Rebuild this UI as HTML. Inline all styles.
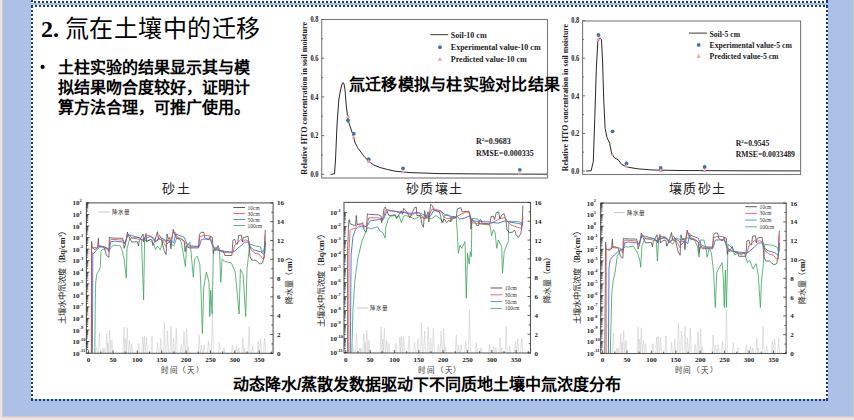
<!DOCTYPE html>
<html lang="zh-CN"><head><meta charset="utf-8"><style>
html,body{margin:0;padding:0;width:854px;height:420px;overflow:hidden;background:#ede2e4;}
svg{display:block;}
</style></head><body>
<svg width="854" height="420" viewBox="0 0 854 420">
<rect x="0" y="0" width="854" height="420" fill="#ede2e4"/>
<rect x="2" y="0" width="852" height="417" fill="#d6c9c5"/>
<rect x="2" y="417" width="852" height="1" fill="#e0dada"/>
<rect x="3" y="0" width="850" height="416" fill="#adc0e6"/>
<rect x="31" y="0" width="797" height="3" fill="#fff"/>
<rect x="31" y="5" width="797" height="394" fill="#fff"/>
<g fill="#103c8c"><rect x="34" y="1" width="2" height="2"/><rect x="38" y="1" width="2" height="2"/><rect x="42" y="1" width="2" height="2"/><rect x="46" y="1" width="2" height="2"/><rect x="50" y="1" width="2" height="2"/><rect x="54" y="1" width="2" height="2"/><rect x="58" y="1" width="2" height="2"/><rect x="62" y="1" width="2" height="2"/><rect x="66" y="1" width="2" height="2"/><rect x="70" y="1" width="2" height="2"/><rect x="74" y="1" width="2" height="2"/><rect x="78" y="1" width="2" height="2"/><rect x="82" y="1" width="2" height="2"/><rect x="86" y="1" width="2" height="2"/><rect x="90" y="1" width="2" height="2"/><rect x="94" y="1" width="2" height="2"/><rect x="98" y="1" width="2" height="2"/><rect x="102" y="1" width="2" height="2"/><rect x="106" y="1" width="2" height="2"/><rect x="110" y="1" width="2" height="2"/><rect x="114" y="1" width="2" height="2"/><rect x="118" y="1" width="2" height="2"/><rect x="122" y="1" width="2" height="2"/><rect x="126" y="1" width="2" height="2"/><rect x="130" y="1" width="2" height="2"/><rect x="134" y="1" width="2" height="2"/><rect x="138" y="1" width="2" height="2"/><rect x="142" y="1" width="2" height="2"/><rect x="146" y="1" width="2" height="2"/><rect x="150" y="1" width="2" height="2"/><rect x="154" y="1" width="2" height="2"/><rect x="158" y="1" width="2" height="2"/><rect x="162" y="1" width="2" height="2"/><rect x="166" y="1" width="2" height="2"/><rect x="170" y="1" width="2" height="2"/><rect x="174" y="1" width="2" height="2"/><rect x="178" y="1" width="2" height="2"/><rect x="182" y="1" width="2" height="2"/><rect x="186" y="1" width="2" height="2"/><rect x="190" y="1" width="2" height="2"/><rect x="194" y="1" width="2" height="2"/><rect x="198" y="1" width="2" height="2"/><rect x="202" y="1" width="2" height="2"/><rect x="206" y="1" width="2" height="2"/><rect x="210" y="1" width="2" height="2"/><rect x="214" y="1" width="2" height="2"/><rect x="218" y="1" width="2" height="2"/><rect x="222" y="1" width="2" height="2"/><rect x="226" y="1" width="2" height="2"/><rect x="230" y="1" width="2" height="2"/><rect x="234" y="1" width="2" height="2"/><rect x="238" y="1" width="2" height="2"/><rect x="242" y="1" width="2" height="2"/><rect x="246" y="1" width="2" height="2"/><rect x="250" y="1" width="2" height="2"/><rect x="254" y="1" width="2" height="2"/><rect x="258" y="1" width="2" height="2"/><rect x="262" y="1" width="2" height="2"/><rect x="266" y="1" width="2" height="2"/><rect x="270" y="1" width="2" height="2"/><rect x="274" y="1" width="2" height="2"/><rect x="278" y="1" width="2" height="2"/><rect x="282" y="1" width="2" height="2"/><rect x="286" y="1" width="2" height="2"/><rect x="290" y="1" width="2" height="2"/><rect x="294" y="1" width="2" height="2"/><rect x="298" y="1" width="2" height="2"/><rect x="302" y="1" width="2" height="2"/><rect x="306" y="1" width="2" height="2"/><rect x="310" y="1" width="2" height="2"/><rect x="314" y="1" width="2" height="2"/><rect x="318" y="1" width="2" height="2"/><rect x="322" y="1" width="2" height="2"/><rect x="326" y="1" width="2" height="2"/><rect x="330" y="1" width="2" height="2"/><rect x="334" y="1" width="2" height="2"/><rect x="338" y="1" width="2" height="2"/><rect x="342" y="1" width="2" height="2"/><rect x="346" y="1" width="2" height="2"/><rect x="350" y="1" width="2" height="2"/><rect x="354" y="1" width="2" height="2"/><rect x="358" y="1" width="2" height="2"/><rect x="362" y="1" width="2" height="2"/><rect x="366" y="1" width="2" height="2"/><rect x="370" y="1" width="2" height="2"/><rect x="374" y="1" width="2" height="2"/><rect x="378" y="1" width="2" height="2"/><rect x="382" y="1" width="2" height="2"/><rect x="386" y="1" width="2" height="2"/><rect x="390" y="1" width="2" height="2"/><rect x="394" y="1" width="2" height="2"/><rect x="398" y="1" width="2" height="2"/><rect x="402" y="1" width="2" height="2"/><rect x="406" y="1" width="2" height="2"/><rect x="410" y="1" width="2" height="2"/><rect x="414" y="1" width="2" height="2"/><rect x="418" y="1" width="2" height="2"/><rect x="422" y="1" width="2" height="2"/><rect x="426" y="1" width="2" height="2"/><rect x="430" y="1" width="2" height="2"/><rect x="434" y="1" width="2" height="2"/><rect x="438" y="1" width="2" height="2"/><rect x="442" y="1" width="2" height="2"/><rect x="446" y="1" width="2" height="2"/><rect x="450" y="1" width="2" height="2"/><rect x="454" y="1" width="2" height="2"/><rect x="458" y="1" width="2" height="2"/><rect x="462" y="1" width="2" height="2"/><rect x="466" y="1" width="2" height="2"/><rect x="470" y="1" width="2" height="2"/><rect x="474" y="1" width="2" height="2"/><rect x="478" y="1" width="2" height="2"/><rect x="482" y="1" width="2" height="2"/><rect x="486" y="1" width="2" height="2"/><rect x="490" y="1" width="2" height="2"/><rect x="494" y="1" width="2" height="2"/><rect x="498" y="1" width="2" height="2"/><rect x="502" y="1" width="2" height="2"/><rect x="506" y="1" width="2" height="2"/><rect x="510" y="1" width="2" height="2"/><rect x="514" y="1" width="2" height="2"/><rect x="518" y="1" width="2" height="2"/><rect x="522" y="1" width="2" height="2"/><rect x="526" y="1" width="2" height="2"/><rect x="530" y="1" width="2" height="2"/><rect x="534" y="1" width="2" height="2"/><rect x="538" y="1" width="2" height="2"/><rect x="542" y="1" width="2" height="2"/><rect x="546" y="1" width="2" height="2"/><rect x="550" y="1" width="2" height="2"/><rect x="554" y="1" width="2" height="2"/><rect x="558" y="1" width="2" height="2"/><rect x="562" y="1" width="2" height="2"/><rect x="566" y="1" width="2" height="2"/><rect x="570" y="1" width="2" height="2"/><rect x="574" y="1" width="2" height="2"/><rect x="578" y="1" width="2" height="2"/><rect x="582" y="1" width="2" height="2"/><rect x="586" y="1" width="2" height="2"/><rect x="590" y="1" width="2" height="2"/><rect x="594" y="1" width="2" height="2"/><rect x="598" y="1" width="2" height="2"/><rect x="602" y="1" width="2" height="2"/><rect x="606" y="1" width="2" height="2"/><rect x="610" y="1" width="2" height="2"/><rect x="614" y="1" width="2" height="2"/><rect x="618" y="1" width="2" height="2"/><rect x="622" y="1" width="2" height="2"/><rect x="626" y="1" width="2" height="2"/><rect x="630" y="1" width="2" height="2"/><rect x="634" y="1" width="2" height="2"/><rect x="638" y="1" width="2" height="2"/><rect x="642" y="1" width="2" height="2"/><rect x="646" y="1" width="2" height="2"/><rect x="650" y="1" width="2" height="2"/><rect x="654" y="1" width="2" height="2"/><rect x="658" y="1" width="2" height="2"/><rect x="662" y="1" width="2" height="2"/><rect x="666" y="1" width="2" height="2"/><rect x="670" y="1" width="2" height="2"/><rect x="674" y="1" width="2" height="2"/><rect x="678" y="1" width="2" height="2"/><rect x="682" y="1" width="2" height="2"/><rect x="686" y="1" width="2" height="2"/><rect x="690" y="1" width="2" height="2"/><rect x="694" y="1" width="2" height="2"/><rect x="698" y="1" width="2" height="2"/><rect x="702" y="1" width="2" height="2"/><rect x="706" y="1" width="2" height="2"/><rect x="710" y="1" width="2" height="2"/><rect x="714" y="1" width="2" height="2"/><rect x="718" y="1" width="2" height="2"/><rect x="722" y="1" width="2" height="2"/><rect x="726" y="1" width="2" height="2"/><rect x="730" y="1" width="2" height="2"/><rect x="734" y="1" width="2" height="2"/><rect x="738" y="1" width="2" height="2"/><rect x="742" y="1" width="2" height="2"/><rect x="746" y="1" width="2" height="2"/><rect x="750" y="1" width="2" height="2"/><rect x="754" y="1" width="2" height="2"/><rect x="758" y="1" width="2" height="2"/><rect x="762" y="1" width="2" height="2"/><rect x="766" y="1" width="2" height="2"/><rect x="770" y="1" width="2" height="2"/><rect x="774" y="1" width="2" height="2"/><rect x="778" y="1" width="2" height="2"/><rect x="782" y="1" width="2" height="2"/><rect x="786" y="1" width="2" height="2"/><rect x="790" y="1" width="2" height="2"/><rect x="794" y="1" width="2" height="2"/><rect x="798" y="1" width="2" height="2"/><rect x="802" y="1" width="2" height="2"/><rect x="806" y="1" width="2" height="2"/><rect x="810" y="1" width="2" height="2"/><rect x="814" y="1" width="2" height="2"/><rect x="818" y="1" width="2" height="2"/><rect x="822" y="1" width="2" height="2"/><rect x="826" y="1" width="2" height="2"/><rect x="35" y="5" width="2" height="2"/><rect x="35" y="399" width="2" height="2"/><rect x="39" y="5" width="2" height="2"/><rect x="39" y="399" width="2" height="2"/><rect x="43" y="5" width="2" height="2"/><rect x="43" y="399" width="2" height="2"/><rect x="47" y="5" width="2" height="2"/><rect x="47" y="399" width="2" height="2"/><rect x="51" y="5" width="2" height="2"/><rect x="51" y="399" width="2" height="2"/><rect x="55" y="5" width="2" height="2"/><rect x="55" y="399" width="2" height="2"/><rect x="59" y="5" width="2" height="2"/><rect x="59" y="399" width="2" height="2"/><rect x="63" y="5" width="2" height="2"/><rect x="63" y="399" width="2" height="2"/><rect x="67" y="5" width="2" height="2"/><rect x="67" y="399" width="2" height="2"/><rect x="71" y="5" width="2" height="2"/><rect x="71" y="399" width="2" height="2"/><rect x="75" y="5" width="2" height="2"/><rect x="75" y="399" width="2" height="2"/><rect x="79" y="5" width="2" height="2"/><rect x="79" y="399" width="2" height="2"/><rect x="83" y="5" width="2" height="2"/><rect x="83" y="399" width="2" height="2"/><rect x="87" y="5" width="2" height="2"/><rect x="87" y="399" width="2" height="2"/><rect x="91" y="5" width="2" height="2"/><rect x="91" y="399" width="2" height="2"/><rect x="95" y="5" width="2" height="2"/><rect x="95" y="399" width="2" height="2"/><rect x="99" y="5" width="2" height="2"/><rect x="99" y="399" width="2" height="2"/><rect x="103" y="5" width="2" height="2"/><rect x="103" y="399" width="2" height="2"/><rect x="107" y="5" width="2" height="2"/><rect x="107" y="399" width="2" height="2"/><rect x="111" y="5" width="2" height="2"/><rect x="111" y="399" width="2" height="2"/><rect x="115" y="5" width="2" height="2"/><rect x="115" y="399" width="2" height="2"/><rect x="119" y="5" width="2" height="2"/><rect x="119" y="399" width="2" height="2"/><rect x="123" y="5" width="2" height="2"/><rect x="123" y="399" width="2" height="2"/><rect x="127" y="5" width="2" height="2"/><rect x="127" y="399" width="2" height="2"/><rect x="131" y="5" width="2" height="2"/><rect x="131" y="399" width="2" height="2"/><rect x="135" y="5" width="2" height="2"/><rect x="135" y="399" width="2" height="2"/><rect x="139" y="5" width="2" height="2"/><rect x="139" y="399" width="2" height="2"/><rect x="143" y="5" width="2" height="2"/><rect x="143" y="399" width="2" height="2"/><rect x="147" y="5" width="2" height="2"/><rect x="147" y="399" width="2" height="2"/><rect x="151" y="5" width="2" height="2"/><rect x="151" y="399" width="2" height="2"/><rect x="155" y="5" width="2" height="2"/><rect x="155" y="399" width="2" height="2"/><rect x="159" y="5" width="2" height="2"/><rect x="159" y="399" width="2" height="2"/><rect x="163" y="5" width="2" height="2"/><rect x="163" y="399" width="2" height="2"/><rect x="167" y="5" width="2" height="2"/><rect x="167" y="399" width="2" height="2"/><rect x="171" y="5" width="2" height="2"/><rect x="171" y="399" width="2" height="2"/><rect x="175" y="5" width="2" height="2"/><rect x="175" y="399" width="2" height="2"/><rect x="179" y="5" width="2" height="2"/><rect x="179" y="399" width="2" height="2"/><rect x="183" y="5" width="2" height="2"/><rect x="183" y="399" width="2" height="2"/><rect x="187" y="5" width="2" height="2"/><rect x="187" y="399" width="2" height="2"/><rect x="191" y="5" width="2" height="2"/><rect x="191" y="399" width="2" height="2"/><rect x="195" y="5" width="2" height="2"/><rect x="195" y="399" width="2" height="2"/><rect x="199" y="5" width="2" height="2"/><rect x="199" y="399" width="2" height="2"/><rect x="203" y="5" width="2" height="2"/><rect x="203" y="399" width="2" height="2"/><rect x="207" y="5" width="2" height="2"/><rect x="207" y="399" width="2" height="2"/><rect x="211" y="5" width="2" height="2"/><rect x="211" y="399" width="2" height="2"/><rect x="215" y="5" width="2" height="2"/><rect x="215" y="399" width="2" height="2"/><rect x="219" y="5" width="2" height="2"/><rect x="219" y="399" width="2" height="2"/><rect x="223" y="5" width="2" height="2"/><rect x="223" y="399" width="2" height="2"/><rect x="227" y="5" width="2" height="2"/><rect x="227" y="399" width="2" height="2"/><rect x="231" y="5" width="2" height="2"/><rect x="231" y="399" width="2" height="2"/><rect x="235" y="5" width="2" height="2"/><rect x="235" y="399" width="2" height="2"/><rect x="239" y="5" width="2" height="2"/><rect x="239" y="399" width="2" height="2"/><rect x="243" y="5" width="2" height="2"/><rect x="243" y="399" width="2" height="2"/><rect x="247" y="5" width="2" height="2"/><rect x="247" y="399" width="2" height="2"/><rect x="251" y="5" width="2" height="2"/><rect x="251" y="399" width="2" height="2"/><rect x="255" y="5" width="2" height="2"/><rect x="255" y="399" width="2" height="2"/><rect x="259" y="5" width="2" height="2"/><rect x="259" y="399" width="2" height="2"/><rect x="263" y="5" width="2" height="2"/><rect x="263" y="399" width="2" height="2"/><rect x="267" y="5" width="2" height="2"/><rect x="267" y="399" width="2" height="2"/><rect x="271" y="5" width="2" height="2"/><rect x="271" y="399" width="2" height="2"/><rect x="275" y="5" width="2" height="2"/><rect x="275" y="399" width="2" height="2"/><rect x="279" y="5" width="2" height="2"/><rect x="279" y="399" width="2" height="2"/><rect x="283" y="5" width="2" height="2"/><rect x="283" y="399" width="2" height="2"/><rect x="287" y="5" width="2" height="2"/><rect x="287" y="399" width="2" height="2"/><rect x="291" y="5" width="2" height="2"/><rect x="291" y="399" width="2" height="2"/><rect x="295" y="5" width="2" height="2"/><rect x="295" y="399" width="2" height="2"/><rect x="299" y="5" width="2" height="2"/><rect x="299" y="399" width="2" height="2"/><rect x="303" y="5" width="2" height="2"/><rect x="303" y="399" width="2" height="2"/><rect x="307" y="5" width="2" height="2"/><rect x="307" y="399" width="2" height="2"/><rect x="311" y="5" width="2" height="2"/><rect x="311" y="399" width="2" height="2"/><rect x="315" y="5" width="2" height="2"/><rect x="315" y="399" width="2" height="2"/><rect x="319" y="5" width="2" height="2"/><rect x="319" y="399" width="2" height="2"/><rect x="323" y="5" width="2" height="2"/><rect x="323" y="399" width="2" height="2"/><rect x="327" y="5" width="2" height="2"/><rect x="327" y="399" width="2" height="2"/><rect x="331" y="5" width="2" height="2"/><rect x="331" y="399" width="2" height="2"/><rect x="335" y="5" width="2" height="2"/><rect x="335" y="399" width="2" height="2"/><rect x="339" y="5" width="2" height="2"/><rect x="339" y="399" width="2" height="2"/><rect x="343" y="5" width="2" height="2"/><rect x="343" y="399" width="2" height="2"/><rect x="347" y="5" width="2" height="2"/><rect x="347" y="399" width="2" height="2"/><rect x="351" y="5" width="2" height="2"/><rect x="351" y="399" width="2" height="2"/><rect x="355" y="5" width="2" height="2"/><rect x="355" y="399" width="2" height="2"/><rect x="359" y="5" width="2" height="2"/><rect x="359" y="399" width="2" height="2"/><rect x="363" y="5" width="2" height="2"/><rect x="363" y="399" width="2" height="2"/><rect x="367" y="5" width="2" height="2"/><rect x="367" y="399" width="2" height="2"/><rect x="371" y="5" width="2" height="2"/><rect x="371" y="399" width="2" height="2"/><rect x="375" y="5" width="2" height="2"/><rect x="375" y="399" width="2" height="2"/><rect x="379" y="5" width="2" height="2"/><rect x="379" y="399" width="2" height="2"/><rect x="383" y="5" width="2" height="2"/><rect x="383" y="399" width="2" height="2"/><rect x="387" y="5" width="2" height="2"/><rect x="387" y="399" width="2" height="2"/><rect x="391" y="5" width="2" height="2"/><rect x="391" y="399" width="2" height="2"/><rect x="395" y="5" width="2" height="2"/><rect x="395" y="399" width="2" height="2"/><rect x="399" y="5" width="2" height="2"/><rect x="399" y="399" width="2" height="2"/><rect x="403" y="5" width="2" height="2"/><rect x="403" y="399" width="2" height="2"/><rect x="407" y="5" width="2" height="2"/><rect x="407" y="399" width="2" height="2"/><rect x="411" y="5" width="2" height="2"/><rect x="411" y="399" width="2" height="2"/><rect x="415" y="5" width="2" height="2"/><rect x="415" y="399" width="2" height="2"/><rect x="419" y="5" width="2" height="2"/><rect x="419" y="399" width="2" height="2"/><rect x="423" y="5" width="2" height="2"/><rect x="423" y="399" width="2" height="2"/><rect x="427" y="5" width="2" height="2"/><rect x="427" y="399" width="2" height="2"/><rect x="431" y="5" width="2" height="2"/><rect x="431" y="399" width="2" height="2"/><rect x="435" y="5" width="2" height="2"/><rect x="435" y="399" width="2" height="2"/><rect x="439" y="5" width="2" height="2"/><rect x="439" y="399" width="2" height="2"/><rect x="443" y="5" width="2" height="2"/><rect x="443" y="399" width="2" height="2"/><rect x="447" y="5" width="2" height="2"/><rect x="447" y="399" width="2" height="2"/><rect x="451" y="5" width="2" height="2"/><rect x="451" y="399" width="2" height="2"/><rect x="455" y="5" width="2" height="2"/><rect x="455" y="399" width="2" height="2"/><rect x="459" y="5" width="2" height="2"/><rect x="459" y="399" width="2" height="2"/><rect x="463" y="5" width="2" height="2"/><rect x="463" y="399" width="2" height="2"/><rect x="467" y="5" width="2" height="2"/><rect x="467" y="399" width="2" height="2"/><rect x="471" y="5" width="2" height="2"/><rect x="471" y="399" width="2" height="2"/><rect x="475" y="5" width="2" height="2"/><rect x="475" y="399" width="2" height="2"/><rect x="479" y="5" width="2" height="2"/><rect x="479" y="399" width="2" height="2"/><rect x="483" y="5" width="2" height="2"/><rect x="483" y="399" width="2" height="2"/><rect x="487" y="5" width="2" height="2"/><rect x="487" y="399" width="2" height="2"/><rect x="491" y="5" width="2" height="2"/><rect x="491" y="399" width="2" height="2"/><rect x="495" y="5" width="2" height="2"/><rect x="495" y="399" width="2" height="2"/><rect x="499" y="5" width="2" height="2"/><rect x="499" y="399" width="2" height="2"/><rect x="503" y="5" width="2" height="2"/><rect x="503" y="399" width="2" height="2"/><rect x="507" y="5" width="2" height="2"/><rect x="507" y="399" width="2" height="2"/><rect x="511" y="5" width="2" height="2"/><rect x="511" y="399" width="2" height="2"/><rect x="515" y="5" width="2" height="2"/><rect x="515" y="399" width="2" height="2"/><rect x="519" y="5" width="2" height="2"/><rect x="519" y="399" width="2" height="2"/><rect x="523" y="5" width="2" height="2"/><rect x="523" y="399" width="2" height="2"/><rect x="527" y="5" width="2" height="2"/><rect x="527" y="399" width="2" height="2"/><rect x="531" y="5" width="2" height="2"/><rect x="531" y="399" width="2" height="2"/><rect x="535" y="5" width="2" height="2"/><rect x="535" y="399" width="2" height="2"/><rect x="539" y="5" width="2" height="2"/><rect x="539" y="399" width="2" height="2"/><rect x="543" y="5" width="2" height="2"/><rect x="543" y="399" width="2" height="2"/><rect x="547" y="5" width="2" height="2"/><rect x="547" y="399" width="2" height="2"/><rect x="551" y="5" width="2" height="2"/><rect x="551" y="399" width="2" height="2"/><rect x="555" y="5" width="2" height="2"/><rect x="555" y="399" width="2" height="2"/><rect x="559" y="5" width="2" height="2"/><rect x="559" y="399" width="2" height="2"/><rect x="563" y="5" width="2" height="2"/><rect x="563" y="399" width="2" height="2"/><rect x="567" y="5" width="2" height="2"/><rect x="567" y="399" width="2" height="2"/><rect x="571" y="5" width="2" height="2"/><rect x="571" y="399" width="2" height="2"/><rect x="575" y="5" width="2" height="2"/><rect x="575" y="399" width="2" height="2"/><rect x="579" y="5" width="2" height="2"/><rect x="579" y="399" width="2" height="2"/><rect x="583" y="5" width="2" height="2"/><rect x="583" y="399" width="2" height="2"/><rect x="587" y="5" width="2" height="2"/><rect x="587" y="399" width="2" height="2"/><rect x="591" y="5" width="2" height="2"/><rect x="591" y="399" width="2" height="2"/><rect x="595" y="5" width="2" height="2"/><rect x="595" y="399" width="2" height="2"/><rect x="599" y="5" width="2" height="2"/><rect x="599" y="399" width="2" height="2"/><rect x="603" y="5" width="2" height="2"/><rect x="603" y="399" width="2" height="2"/><rect x="607" y="5" width="2" height="2"/><rect x="607" y="399" width="2" height="2"/><rect x="611" y="5" width="2" height="2"/><rect x="611" y="399" width="2" height="2"/><rect x="615" y="5" width="2" height="2"/><rect x="615" y="399" width="2" height="2"/><rect x="619" y="5" width="2" height="2"/><rect x="619" y="399" width="2" height="2"/><rect x="623" y="5" width="2" height="2"/><rect x="623" y="399" width="2" height="2"/><rect x="627" y="5" width="2" height="2"/><rect x="627" y="399" width="2" height="2"/><rect x="631" y="5" width="2" height="2"/><rect x="631" y="399" width="2" height="2"/><rect x="635" y="5" width="2" height="2"/><rect x="635" y="399" width="2" height="2"/><rect x="639" y="5" width="2" height="2"/><rect x="639" y="399" width="2" height="2"/><rect x="643" y="5" width="2" height="2"/><rect x="643" y="399" width="2" height="2"/><rect x="647" y="5" width="2" height="2"/><rect x="647" y="399" width="2" height="2"/><rect x="651" y="5" width="2" height="2"/><rect x="651" y="399" width="2" height="2"/><rect x="655" y="5" width="2" height="2"/><rect x="655" y="399" width="2" height="2"/><rect x="659" y="5" width="2" height="2"/><rect x="659" y="399" width="2" height="2"/><rect x="663" y="5" width="2" height="2"/><rect x="663" y="399" width="2" height="2"/><rect x="667" y="5" width="2" height="2"/><rect x="667" y="399" width="2" height="2"/><rect x="671" y="5" width="2" height="2"/><rect x="671" y="399" width="2" height="2"/><rect x="675" y="5" width="2" height="2"/><rect x="675" y="399" width="2" height="2"/><rect x="679" y="5" width="2" height="2"/><rect x="679" y="399" width="2" height="2"/><rect x="683" y="5" width="2" height="2"/><rect x="683" y="399" width="2" height="2"/><rect x="687" y="5" width="2" height="2"/><rect x="687" y="399" width="2" height="2"/><rect x="691" y="5" width="2" height="2"/><rect x="691" y="399" width="2" height="2"/><rect x="695" y="5" width="2" height="2"/><rect x="695" y="399" width="2" height="2"/><rect x="699" y="5" width="2" height="2"/><rect x="699" y="399" width="2" height="2"/><rect x="703" y="5" width="2" height="2"/><rect x="703" y="399" width="2" height="2"/><rect x="707" y="5" width="2" height="2"/><rect x="707" y="399" width="2" height="2"/><rect x="711" y="5" width="2" height="2"/><rect x="711" y="399" width="2" height="2"/><rect x="715" y="5" width="2" height="2"/><rect x="715" y="399" width="2" height="2"/><rect x="719" y="5" width="2" height="2"/><rect x="719" y="399" width="2" height="2"/><rect x="723" y="5" width="2" height="2"/><rect x="723" y="399" width="2" height="2"/><rect x="727" y="5" width="2" height="2"/><rect x="727" y="399" width="2" height="2"/><rect x="731" y="5" width="2" height="2"/><rect x="731" y="399" width="2" height="2"/><rect x="735" y="5" width="2" height="2"/><rect x="735" y="399" width="2" height="2"/><rect x="739" y="5" width="2" height="2"/><rect x="739" y="399" width="2" height="2"/><rect x="743" y="5" width="2" height="2"/><rect x="743" y="399" width="2" height="2"/><rect x="747" y="5" width="2" height="2"/><rect x="747" y="399" width="2" height="2"/><rect x="751" y="5" width="2" height="2"/><rect x="751" y="399" width="2" height="2"/><rect x="755" y="5" width="2" height="2"/><rect x="755" y="399" width="2" height="2"/><rect x="759" y="5" width="2" height="2"/><rect x="759" y="399" width="2" height="2"/><rect x="763" y="5" width="2" height="2"/><rect x="763" y="399" width="2" height="2"/><rect x="767" y="5" width="2" height="2"/><rect x="767" y="399" width="2" height="2"/><rect x="771" y="5" width="2" height="2"/><rect x="771" y="399" width="2" height="2"/><rect x="775" y="5" width="2" height="2"/><rect x="775" y="399" width="2" height="2"/><rect x="779" y="5" width="2" height="2"/><rect x="779" y="399" width="2" height="2"/><rect x="783" y="5" width="2" height="2"/><rect x="783" y="399" width="2" height="2"/><rect x="787" y="5" width="2" height="2"/><rect x="787" y="399" width="2" height="2"/><rect x="791" y="5" width="2" height="2"/><rect x="791" y="399" width="2" height="2"/><rect x="795" y="5" width="2" height="2"/><rect x="795" y="399" width="2" height="2"/><rect x="799" y="5" width="2" height="2"/><rect x="799" y="399" width="2" height="2"/><rect x="803" y="5" width="2" height="2"/><rect x="803" y="399" width="2" height="2"/><rect x="807" y="5" width="2" height="2"/><rect x="807" y="399" width="2" height="2"/><rect x="811" y="5" width="2" height="2"/><rect x="811" y="399" width="2" height="2"/><rect x="815" y="5" width="2" height="2"/><rect x="815" y="399" width="2" height="2"/><rect x="819" y="5" width="2" height="2"/><rect x="819" y="399" width="2" height="2"/><rect x="823" y="5" width="2" height="2"/><rect x="823" y="399" width="2" height="2"/><rect x="31" y="0" width="2" height="2"/><rect x="826" y="0" width="2" height="2"/><rect x="31" y="10" width="2" height="2"/><rect x="826" y="10" width="2" height="2"/><rect x="31" y="14" width="2" height="2"/><rect x="826" y="14" width="2" height="2"/><rect x="31" y="18" width="2" height="2"/><rect x="826" y="18" width="2" height="2"/><rect x="31" y="22" width="2" height="2"/><rect x="826" y="22" width="2" height="2"/><rect x="31" y="26" width="2" height="2"/><rect x="826" y="26" width="2" height="2"/><rect x="31" y="30" width="2" height="2"/><rect x="826" y="30" width="2" height="2"/><rect x="31" y="34" width="2" height="2"/><rect x="826" y="34" width="2" height="2"/><rect x="31" y="38" width="2" height="2"/><rect x="826" y="38" width="2" height="2"/><rect x="31" y="42" width="2" height="2"/><rect x="826" y="42" width="2" height="2"/><rect x="31" y="46" width="2" height="2"/><rect x="826" y="46" width="2" height="2"/><rect x="31" y="50" width="2" height="2"/><rect x="826" y="50" width="2" height="2"/><rect x="31" y="54" width="2" height="2"/><rect x="826" y="54" width="2" height="2"/><rect x="31" y="58" width="2" height="2"/><rect x="826" y="58" width="2" height="2"/><rect x="31" y="62" width="2" height="2"/><rect x="826" y="62" width="2" height="2"/><rect x="31" y="66" width="2" height="2"/><rect x="826" y="66" width="2" height="2"/><rect x="31" y="70" width="2" height="2"/><rect x="826" y="70" width="2" height="2"/><rect x="31" y="74" width="2" height="2"/><rect x="826" y="74" width="2" height="2"/><rect x="31" y="78" width="2" height="2"/><rect x="826" y="78" width="2" height="2"/><rect x="31" y="82" width="2" height="2"/><rect x="826" y="82" width="2" height="2"/><rect x="31" y="86" width="2" height="2"/><rect x="826" y="86" width="2" height="2"/><rect x="31" y="90" width="2" height="2"/><rect x="826" y="90" width="2" height="2"/><rect x="31" y="94" width="2" height="2"/><rect x="826" y="94" width="2" height="2"/><rect x="31" y="98" width="2" height="2"/><rect x="826" y="98" width="2" height="2"/><rect x="31" y="102" width="2" height="2"/><rect x="826" y="102" width="2" height="2"/><rect x="31" y="106" width="2" height="2"/><rect x="826" y="106" width="2" height="2"/><rect x="31" y="110" width="2" height="2"/><rect x="826" y="110" width="2" height="2"/><rect x="31" y="114" width="2" height="2"/><rect x="826" y="114" width="2" height="2"/><rect x="31" y="118" width="2" height="2"/><rect x="826" y="118" width="2" height="2"/><rect x="31" y="122" width="2" height="2"/><rect x="826" y="122" width="2" height="2"/><rect x="31" y="126" width="2" height="2"/><rect x="826" y="126" width="2" height="2"/><rect x="31" y="130" width="2" height="2"/><rect x="826" y="130" width="2" height="2"/><rect x="31" y="134" width="2" height="2"/><rect x="826" y="134" width="2" height="2"/><rect x="31" y="138" width="2" height="2"/><rect x="826" y="138" width="2" height="2"/><rect x="31" y="142" width="2" height="2"/><rect x="826" y="142" width="2" height="2"/><rect x="31" y="146" width="2" height="2"/><rect x="826" y="146" width="2" height="2"/><rect x="31" y="150" width="2" height="2"/><rect x="826" y="150" width="2" height="2"/><rect x="31" y="154" width="2" height="2"/><rect x="826" y="154" width="2" height="2"/><rect x="31" y="158" width="2" height="2"/><rect x="826" y="158" width="2" height="2"/><rect x="31" y="162" width="2" height="2"/><rect x="826" y="162" width="2" height="2"/><rect x="31" y="166" width="2" height="2"/><rect x="826" y="166" width="2" height="2"/><rect x="31" y="170" width="2" height="2"/><rect x="826" y="170" width="2" height="2"/><rect x="31" y="174" width="2" height="2"/><rect x="826" y="174" width="2" height="2"/><rect x="31" y="178" width="2" height="2"/><rect x="826" y="178" width="2" height="2"/><rect x="31" y="182" width="2" height="2"/><rect x="826" y="182" width="2" height="2"/><rect x="31" y="186" width="2" height="2"/><rect x="826" y="186" width="2" height="2"/><rect x="31" y="190" width="2" height="2"/><rect x="826" y="190" width="2" height="2"/><rect x="31" y="194" width="2" height="2"/><rect x="826" y="194" width="2" height="2"/><rect x="31" y="198" width="2" height="2"/><rect x="826" y="198" width="2" height="2"/><rect x="31" y="202" width="2" height="2"/><rect x="826" y="202" width="2" height="2"/><rect x="31" y="206" width="2" height="2"/><rect x="826" y="206" width="2" height="2"/><rect x="31" y="210" width="2" height="2"/><rect x="826" y="210" width="2" height="2"/><rect x="31" y="214" width="2" height="2"/><rect x="826" y="214" width="2" height="2"/><rect x="31" y="218" width="2" height="2"/><rect x="826" y="218" width="2" height="2"/><rect x="31" y="222" width="2" height="2"/><rect x="826" y="222" width="2" height="2"/><rect x="31" y="226" width="2" height="2"/><rect x="826" y="226" width="2" height="2"/><rect x="31" y="230" width="2" height="2"/><rect x="826" y="230" width="2" height="2"/><rect x="31" y="234" width="2" height="2"/><rect x="826" y="234" width="2" height="2"/><rect x="31" y="238" width="2" height="2"/><rect x="826" y="238" width="2" height="2"/><rect x="31" y="242" width="2" height="2"/><rect x="826" y="242" width="2" height="2"/><rect x="31" y="246" width="2" height="2"/><rect x="826" y="246" width="2" height="2"/><rect x="31" y="250" width="2" height="2"/><rect x="826" y="250" width="2" height="2"/><rect x="31" y="254" width="2" height="2"/><rect x="826" y="254" width="2" height="2"/><rect x="31" y="258" width="2" height="2"/><rect x="826" y="258" width="2" height="2"/><rect x="31" y="262" width="2" height="2"/><rect x="826" y="262" width="2" height="2"/><rect x="31" y="266" width="2" height="2"/><rect x="826" y="266" width="2" height="2"/><rect x="31" y="270" width="2" height="2"/><rect x="826" y="270" width="2" height="2"/><rect x="31" y="274" width="2" height="2"/><rect x="826" y="274" width="2" height="2"/><rect x="31" y="278" width="2" height="2"/><rect x="826" y="278" width="2" height="2"/><rect x="31" y="282" width="2" height="2"/><rect x="826" y="282" width="2" height="2"/><rect x="31" y="286" width="2" height="2"/><rect x="826" y="286" width="2" height="2"/><rect x="31" y="290" width="2" height="2"/><rect x="826" y="290" width="2" height="2"/><rect x="31" y="294" width="2" height="2"/><rect x="826" y="294" width="2" height="2"/><rect x="31" y="298" width="2" height="2"/><rect x="826" y="298" width="2" height="2"/><rect x="31" y="302" width="2" height="2"/><rect x="826" y="302" width="2" height="2"/><rect x="31" y="306" width="2" height="2"/><rect x="826" y="306" width="2" height="2"/><rect x="31" y="310" width="2" height="2"/><rect x="826" y="310" width="2" height="2"/><rect x="31" y="314" width="2" height="2"/><rect x="826" y="314" width="2" height="2"/><rect x="31" y="318" width="2" height="2"/><rect x="826" y="318" width="2" height="2"/><rect x="31" y="322" width="2" height="2"/><rect x="826" y="322" width="2" height="2"/><rect x="31" y="326" width="2" height="2"/><rect x="826" y="326" width="2" height="2"/><rect x="31" y="330" width="2" height="2"/><rect x="826" y="330" width="2" height="2"/><rect x="31" y="334" width="2" height="2"/><rect x="826" y="334" width="2" height="2"/><rect x="31" y="338" width="2" height="2"/><rect x="826" y="338" width="2" height="2"/><rect x="31" y="342" width="2" height="2"/><rect x="826" y="342" width="2" height="2"/><rect x="31" y="346" width="2" height="2"/><rect x="826" y="346" width="2" height="2"/><rect x="31" y="350" width="2" height="2"/><rect x="826" y="350" width="2" height="2"/><rect x="31" y="354" width="2" height="2"/><rect x="826" y="354" width="2" height="2"/><rect x="31" y="358" width="2" height="2"/><rect x="826" y="358" width="2" height="2"/><rect x="31" y="362" width="2" height="2"/><rect x="826" y="362" width="2" height="2"/><rect x="31" y="366" width="2" height="2"/><rect x="826" y="366" width="2" height="2"/><rect x="31" y="370" width="2" height="2"/><rect x="826" y="370" width="2" height="2"/><rect x="31" y="374" width="2" height="2"/><rect x="826" y="374" width="2" height="2"/><rect x="31" y="378" width="2" height="2"/><rect x="826" y="378" width="2" height="2"/><rect x="31" y="382" width="2" height="2"/><rect x="826" y="382" width="2" height="2"/><rect x="31" y="386" width="2" height="2"/><rect x="826" y="386" width="2" height="2"/><rect x="31" y="390" width="2" height="2"/><rect x="826" y="390" width="2" height="2"/><rect x="31" y="394" width="2" height="2"/><rect x="826" y="394" width="2" height="2"/><rect x="31" y="398" width="2" height="2"/><rect x="826" y="398" width="2" height="2"/><rect x="31" y="6" width="2" height="2"/><rect x="826" y="6" width="2" height="2"/><rect x="31" y="5" width="2" height="2"/><rect x="826" y="5" width="2" height="2"/><rect x="31" y="399" width="2" height="2"/><rect x="826" y="399" width="2" height="2"/></g>
<text x="41" y="37" font-size="24" font-family="'Liberation Serif', serif" fill="#000"><tspan font-weight="bold">2. </tspan><tspan letter-spacing="0.45" font-weight="500">氚在土壤中的迁移</tspan></text>
<circle cx="42.6" cy="66.9" r="2.1" fill="#000"/>
<text x="58" y="73" font-size="16" font-weight="bold" font-family="'Liberation Sans', sans-serif" fill="#000">土柱实验的结果显示其与模</text>
<text x="58" y="93" font-size="16" font-weight="bold" font-family="'Liberation Sans', sans-serif" fill="#000">拟结果吻合度较好，证明计</text>
<text x="58" y="113" font-size="16" font-weight="bold" font-family="'Liberation Sans', sans-serif" fill="#000">算方法合理，可推广使用。</text>
<rect x="321.7" y="19.5" width="225.8" height="158.5" fill="none" stroke="#7a7a7a" stroke-width="1.1"/>
<line x1="321.7" y1="174.3" x2="324.2" y2="174.3" stroke="#555" stroke-width="0.8"/>
<text transform="translate(318.4,177.1) scale(0.8,1)" font-size="8" font-weight="bold" text-anchor="end" font-family="'Liberation Serif', serif" fill="#222">0.0</text>
<line x1="321.7" y1="155.0" x2="323.2" y2="155.0" stroke="#555" stroke-width="0.8"/>
<line x1="321.7" y1="135.6" x2="324.2" y2="135.6" stroke="#555" stroke-width="0.8"/>
<text transform="translate(318.4,138.4) scale(0.8,1)" font-size="8" font-weight="bold" text-anchor="end" font-family="'Liberation Serif', serif" fill="#222">0.2</text>
<line x1="321.7" y1="116.2" x2="323.2" y2="116.2" stroke="#555" stroke-width="0.8"/>
<line x1="321.7" y1="96.9" x2="324.2" y2="96.9" stroke="#555" stroke-width="0.8"/>
<text transform="translate(318.4,99.7) scale(0.8,1)" font-size="8" font-weight="bold" text-anchor="end" font-family="'Liberation Serif', serif" fill="#222">0.4</text>
<line x1="321.7" y1="77.6" x2="323.2" y2="77.6" stroke="#555" stroke-width="0.8"/>
<line x1="321.7" y1="58.2" x2="324.2" y2="58.2" stroke="#555" stroke-width="0.8"/>
<text transform="translate(318.4,61.0) scale(0.8,1)" font-size="8" font-weight="bold" text-anchor="end" font-family="'Liberation Serif', serif" fill="#222">0.6</text>
<line x1="321.7" y1="38.8" x2="323.2" y2="38.8" stroke="#555" stroke-width="0.8"/>
<line x1="321.7" y1="19.5" x2="324.2" y2="19.5" stroke="#555" stroke-width="0.8"/>
<text transform="translate(318.4,22.3) scale(0.8,1)" font-size="8" font-weight="bold" text-anchor="end" font-family="'Liberation Serif', serif" fill="#222">0.8</text>
<text transform="translate(307.2,98.3) rotate(-90)" font-size="8.1" font-weight="bold" text-anchor="middle" font-family="'Liberation Serif', serif" fill="#222">Relative HTO concentration in soil moisture</text>
<line x1="430.3" y1="34.7" x2="448.3" y2="34.7" stroke="#222" stroke-width="0.9"/>
<text x="450.8" y="38.1" font-size="8" font-weight="bold" font-family="'Liberation Serif', serif" fill="#222">Soil-10 cm</text>
<circle cx="440.0" cy="47.2" r="1.9" fill="#4573a8"/>
<text x="450.8" y="50.1" font-size="8" font-weight="bold" font-family="'Liberation Serif', serif" fill="#222">Experimental value-10 cm</text>
<path d="M437.90000000000003,60.7 L442.1,60.7 L440.0,56.800000000000004Z" fill="#f2a59a"/>
<text x="450.8" y="62.1" font-size="8" font-weight="bold" font-family="'Liberation Serif', serif" fill="#222">Predicted value-10 cm</text>
<text x="476" y="143.5" font-size="8" font-weight="bold" font-family="'Liberation Serif', serif" fill="#222">R<tspan font-size="5" dy="-3">2</tspan><tspan dy="3">=0.9683</tspan></text>
<text x="476" y="155.5" font-size="8" font-weight="bold" font-family="'Liberation Serif', serif" fill="#222">RMSE=0.000335</text>
<path d="M330.5,174.4 L334.5,173.8 L335.5,160.0 L337.0,125.0 L338.8,100.0 L340.5,90.0 L342.0,84.0 L343.0,82.5 L344.0,84.0 L345.0,90.0 L346.2,105.0 L348.0,120.0 L350.0,126.2 L353.0,135.0 L355.0,142.5 L357.5,147.5 L361.2,152.5 L365.0,157.5 L368.8,161.2 L373.8,165.0 L380.0,167.5 L387.5,169.5 L395.0,171.2 L410.0,172.6 L440.0,173.6 L490.0,174.0 L547.0,174.2" fill="none" stroke="#111" stroke-width="0.9"/>
<circle cx="348" cy="120.5" r="1.9" fill="#4573a8"/>
<path d="M346,118.0 L350,118.0 L348,114.5Z" fill="#f2a59a"/>
<circle cx="353.75" cy="133.75" r="1.9" fill="#4573a8"/>
<path d="M351.75,138.5 L355.75,138.5 L353.75,135Z" fill="#f2a59a"/>
<circle cx="368.75" cy="159.25" r="1.9" fill="#4573a8"/>
<path d="M366.75,163.0 L370.75,163.0 L368.75,159.5Z" fill="#f2a59a"/>
<circle cx="403" cy="168.3" r="1.9" fill="#4573a8"/>
<path d="M401,173.2 L405,173.2 L403,169.7Z" fill="#f2a59a"/>
<circle cx="519.8" cy="169.8" r="1.9" fill="#4573a8"/>
<path d="M517.8,174.5 L521.8,174.5 L519.8,171Z" fill="#f2a59a"/>
<rect x="582.6" y="21" width="218.0" height="153.5" fill="none" stroke="#7a7a7a" stroke-width="1.1"/>
<line x1="582.6" y1="171.0" x2="585.1" y2="171.0" stroke="#555" stroke-width="0.8"/>
<text transform="translate(579.3000000000001,173.8) scale(0.8,1)" font-size="8" font-weight="bold" text-anchor="end" font-family="'Liberation Serif', serif" fill="#222">0.0</text>
<line x1="582.6" y1="152.2" x2="584.1" y2="152.2" stroke="#555" stroke-width="0.8"/>
<line x1="582.6" y1="133.4" x2="585.1" y2="133.4" stroke="#555" stroke-width="0.8"/>
<text transform="translate(579.3000000000001,136.2) scale(0.8,1)" font-size="8" font-weight="bold" text-anchor="end" font-family="'Liberation Serif', serif" fill="#222">0.2</text>
<line x1="582.6" y1="114.6" x2="584.1" y2="114.6" stroke="#555" stroke-width="0.8"/>
<line x1="582.6" y1="95.8" x2="585.1" y2="95.8" stroke="#555" stroke-width="0.8"/>
<text transform="translate(579.3000000000001,98.6) scale(0.8,1)" font-size="8" font-weight="bold" text-anchor="end" font-family="'Liberation Serif', serif" fill="#222">0.4</text>
<line x1="582.6" y1="77.0" x2="584.1" y2="77.0" stroke="#555" stroke-width="0.8"/>
<line x1="582.6" y1="58.2" x2="585.1" y2="58.2" stroke="#555" stroke-width="0.8"/>
<text transform="translate(579.3000000000001,61.0) scale(0.8,1)" font-size="8" font-weight="bold" text-anchor="end" font-family="'Liberation Serif', serif" fill="#222">0.6</text>
<line x1="582.6" y1="39.4" x2="584.1" y2="39.4" stroke="#555" stroke-width="0.8"/>
<line x1="582.6" y1="20.6" x2="585.1" y2="20.6" stroke="#555" stroke-width="0.8"/>
<text transform="translate(579.3000000000001,23.4) scale(0.8,1)" font-size="8" font-weight="bold" text-anchor="end" font-family="'Liberation Serif', serif" fill="#222">0.8</text>
<text transform="translate(568.2,97.6) rotate(-90)" font-size="7.8" font-weight="bold" text-anchor="middle" font-family="'Liberation Serif', serif" fill="#222">Relative HTO concentration in soil moisture</text>
<line x1="689" y1="33.1" x2="707" y2="33.1" stroke="#222" stroke-width="0.9"/>
<text x="709.5" y="36.5" font-size="7.7" font-weight="bold" font-family="'Liberation Serif', serif" fill="#222">Soil-5 cm</text>
<circle cx="698.7" cy="44.900000000000006" r="1.9" fill="#4573a8"/>
<text x="709.5" y="47.800000000000004" font-size="7.7" font-weight="bold" font-family="'Liberation Serif', serif" fill="#222">Experimental value-5 cm</text>
<path d="M696.6,57.7 L700.8,57.7 L698.7,53.800000000000004Z" fill="#f2a59a"/>
<text x="709.5" y="59.1" font-size="7.7" font-weight="bold" font-family="'Liberation Serif', serif" fill="#222">Predicted value-5 cm</text>
<text x="735.7" y="146" font-size="7.7" font-weight="bold" font-family="'Liberation Serif', serif" fill="#222">R<tspan font-size="5" dy="-3">2</tspan><tspan dy="3">=0.9545</tspan></text>
<text x="735.7" y="156.5" font-size="7.7" font-weight="bold" font-family="'Liberation Serif', serif" fill="#222">RMSE=0.0033489</text>
<path d="M586.0,171.0 L591.1,170.8 L593.3,161.5 L594.8,117.3 L596.3,69.3 L597.8,41.6 L599.6,37.9 L601.5,39.8 L602.6,61.9 L603.7,98.8 L605.1,128.3 L607.0,137.5 L609.6,143.1 L611.8,154.2 L614.4,157.8 L618.1,159.7 L621.7,164.5 L627.3,167.1 L638.4,168.9 L653.1,170.0 L680.0,170.5 L740.0,170.8 L800.0,170.9" fill="none" stroke="#111" stroke-width="0.9"/>
<circle cx="598.5" cy="35" r="1.9" fill="#4573a8"/>
<path d="M596.5,40.5 L600.5,40.5 L598.5,37Z" fill="#f2a59a"/>
<circle cx="612.5" cy="131.3" r="1.9" fill="#4573a8"/>
<path d="M610.5,155.7 L614.5,155.7 L612.5,152.2Z" fill="#f2a59a"/>
<circle cx="626.5" cy="163.4" r="1.9" fill="#4573a8"/>
<path d="M624.5,167.5 L628.5,167.5 L626.5,164Z" fill="#f2a59a"/>
<circle cx="660.7" cy="168" r="1.9" fill="#4573a8"/>
<path d="M658.7,172.0 L662.7,172.0 L660.7,168.5Z" fill="#f2a59a"/>
<circle cx="704.6" cy="167" r="1.9" fill="#4573a8"/>
<path d="M702.6,172.0 L706.6,172.0 L704.6,168.5Z" fill="#f2a59a"/>
<text x="176.5" y="193" font-size="13" letter-spacing="1.5" text-anchor="middle" font-family="'Liberation Serif', serif" fill="#222">砂土</text>
<path d="M95.5,353.3 L96.5,347.5 L97.5,353.3 M98.4,353.3 L99.4,333.2 L100.4,353.3 M101.5,353.3 L102.5,348.6 L103.5,353.3 M103.0,353.3 L104.0,348.0 L105.0,353.3 M105.7,353.3 L106.7,333.7 L107.7,353.3 M107.0,353.3 L108.0,343.0 L109.0,353.3 M108.7,353.3 L109.7,330.4 L110.7,353.3 M110.9,353.3 L111.9,340.3 L112.9,353.3 M123.0,353.3 L124.0,327.1 L125.0,353.3 M124.6,353.3 L125.6,339.0 L126.6,353.3 M126.3,353.3 L127.3,327.7 L128.3,353.3 M128.5,353.3 L129.5,340.3 L130.5,353.3 M130.7,353.3 L131.7,343.6 L132.7,353.3 M137.8,353.3 L138.8,343.6 L139.8,353.3 M141.7,353.3 L142.7,337.0 L143.7,353.3 M143.3,353.3 L144.3,335.9 L145.3,353.3 M145.5,353.3 L146.5,337.0 L147.5,353.3 M151.0,353.3 L152.0,335.9 L153.0,353.3 M156.5,353.3 L157.5,342.5 L158.5,353.3 M159.8,353.3 L160.8,338.7 L161.8,353.3 M163.4,353.3 L164.4,322.7 L165.4,353.3 M166.5,353.3 L167.5,331.0 L168.5,353.3 M170.0,353.3 L171.0,326.6 L172.0,353.3 M172.5,353.3 L173.5,338.1 L174.5,353.3 M175.3,353.3 L176.3,328.2 L177.3,353.3 M180.2,353.3 L181.2,344.3 L182.2,353.3 M183.0,353.3 L184.0,331.1 L185.0,353.3 M185.6,353.3 L186.6,328.8 L187.6,353.3 M187.3,353.3 L188.3,346.6 L189.3,353.3 M198.2,353.3 L199.2,335.1 L200.2,353.3 M200.5,353.3 L201.5,345.0 L202.5,353.3 M203.2,353.3 L204.2,344.8 L205.2,353.3 M207.4,353.3 L208.4,340.8 L209.4,353.3 M211.4,353.3 L212.4,309.8 L213.4,353.3 M218.3,353.3 L219.3,342.5 L220.3,353.3 M222.9,353.3 L223.9,347.7 L224.9,353.3 M231.5,353.3 L232.5,344.8 L233.5,353.3 M235.5,353.3 L236.5,346.0 L237.5,353.3 M237.8,353.3 L238.8,347.7 L239.8,353.3 M241.8,353.3 L242.8,338.0 L243.8,353.3 M243.5,353.3 L244.5,348.0 L245.5,353.3 M248.1,353.3 L249.1,326.5 L250.1,353.3 M251.6,353.3 L252.6,346.0 L253.6,353.3 M257.3,353.3 L258.3,341.4 L259.3,353.3 M259.6,353.3 L260.6,339.1 L261.6,353.3 M263.6,353.3 L264.6,338.0 L265.6,353.3" fill="none" stroke="#cdcdcd" stroke-width="0.6"/>
<path d="M94.8,353.0 L95.3,300.0 L95.7,282.9 L96.7,274.3 L98.9,270.7 L100.3,267.1 L101.0,251.4 L102.4,249.3 L107.4,248.6 L109.0,250.7 L110.8,247.9 L113.6,245.0 L117.4,245.5 L120.3,246.0 L122.2,250.7 L124.1,259.3 L126.3,277.9 L127.0,248.8 L129.8,238.3 L139.3,237.4 L141.5,240.2 L143.6,299.8 L144.6,240.2 L150.0,240.5 L153.9,244.4 L155.5,249.7 L157.5,246.0 L160.4,249.8 L163.0,240.2 L168.0,240.2 L170.9,244.0 L173.7,246.0 L176.6,238.3 L180.0,239.5 L181.5,243.1 L185.4,266.7 L186.7,245.7 L189.9,242.1 L190.6,247.0 L193.3,277.2 L194.6,258.8 L197.2,256.2 L199.8,264.1 L201.1,292.9 L202.4,333.5 L203.7,287.7 L206.4,271.9 L209.0,282.4 L209.8,316.5 L210.8,290.0 L212.1,313.9 L213.4,251.0 L215.5,247.0 L217.6,247.9 L219.5,251.0 L220.8,282.4 L222.1,258.8 L224.7,261.5 L231.3,262.8 L235.2,271.9 L239.1,313.9 L240.4,269.3 L243.1,274.6 L245.7,316.5 L247.0,269.3 L249.6,245.7 L250.0,244.0 L255.7,246.0 L260.5,246.9 L261.9,252.6 L263.3,249.8 L264.8,253.6 L265.3,240.5" fill="none" stroke="#3aa55a" stroke-width="0.8" stroke-linejoin="round" opacity="1"/>
<path d="M91.4,353.0 L91.6,241.4 L92.2,247.9 L95.0,249.5 L97.5,248.0 L98.4,238.3 L98.9,246.9 L104.0,247.0 L106.5,255.5 L108.9,257.4 L109.3,237.4 L111.0,238.0 L122.5,238.3 L123.6,241.7 L124.1,248.3 L125.5,244.0 L127.4,232.1 L128.4,235.5 L131.7,242.1 L137.4,241.7 L138.4,246.0 L139.3,240.7 L143.1,234.0 L143.6,242.0 L146.0,233.6 L146.5,242.0 L150.0,239.3 L152.0,240.0 L152.8,245.5 L154.7,241.2 L157.5,231.7 L158.5,239.3 L161.3,239.3 L164.2,250.7 L166.1,254.5 L167.0,234.0 L168.5,239.3 L169.9,237.4 L170.9,248.8 L171.8,240.2 L173.2,229.3 L174.7,234.5 L176.6,238.3 L180.4,238.3 L184.2,241.2 L185.1,251.7 L186.1,246.0 L189.0,247.9 L198.5,247.9 L199.4,234.5 L201.3,232.1 L204.0,232.6 L204.5,237.4 L207.0,239.3 L209.0,239.8 L210.0,236.4 L212.4,237.4 L213.3,253.6 L213.8,249.8 L215.7,250.7 L218.1,245.5 L219.5,249.8 L221.4,251.7 L223.3,250.7 L224.8,255.5 L231.9,255.5 L232.9,240.2 L234.8,239.3 L236.2,244.0 L237.6,244.0 L238.6,235.5 L241.4,235.0 L242.4,242.1 L243.3,237.4 L248.1,236.4 L249.0,244.0 L250.0,256.4 L251.9,260.2 L255.7,260.2 L257.6,262.1 L260.1,264.1 L262.7,262.8 L264.0,256.2 L265.3,230.0" fill="none" stroke="#505050" stroke-width="0.8" stroke-linejoin="round" opacity="1"/>
<path d="M91.4,353.0 L91.6,247.1 L97.4,247.9 L99.3,245.5 L106.0,247.4 L108.9,252.1 L109.8,240.2 L111.7,239.3 L123.1,240.2 L125.0,244.0 L127.9,234.0 L129.8,235.5 L131.7,237.9 L139.3,239.3 L143.1,240.2 L146.0,236.0 L148.0,235.5 L151.8,236.4 L153.7,240.2 L157.5,240.2 L159.4,235.0 L162.3,240.2 L166.1,246.9 L167.0,240.2 L170.9,241.2 L173.2,232.1 L175.6,232.6 L176.6,236.4 L184.2,241.2 L186.1,245.0 L189.9,246.9 L198.5,246.9 L199.9,236.4 L205.1,235.5 L210.0,236.0 L212.9,246.9 L215.7,249.8 L219.5,250.7 L224.3,252.6 L232.9,252.6 L234.8,245.0 L238.6,241.7 L240.5,239.8 L243.3,241.2 L245.2,239.8 L249.0,241.2 L251.0,249.8 L254.8,253.1 L259.5,254.5 L262.4,258.3 L264.3,258.3 L265.2,234.5" fill="none" stroke="#e8453c" stroke-width="0.8" stroke-linejoin="round" opacity="1"/>
<path d="M92.4,353.0 L92.8,252.9 L93.6,253.6 L96.0,250.7 L100.3,246.4 L107.0,247.9 L109.3,249.8 L110.8,241.7 L114.6,241.2 L123.1,242.1 L125.0,243.1 L127.9,235.0 L131.7,235.5 L139.3,237.9 L143.1,240.2 L150.0,236.4 L153.7,238.3 L155.6,241.7 L160.4,237.4 L165.0,240.2 L167.0,244.0 L170.9,240.2 L173.7,243.1 L175.6,234.0 L184.2,237.4 L187.0,244.0 L191.8,246.0 L199.4,246.4 L201.3,239.3 L210.0,238.8 L212.9,246.0 L214.0,247.9 L217.6,249.8 L223.3,251.2 L232.9,252.1 L235.7,250.2 L243.3,243.6 L244.3,242.1 L248.1,242.1 L250.0,246.9 L253.8,249.8 L260.5,251.7 L264.3,254.5 L265.7,242.1" fill="none" stroke="#3d70db" stroke-width="0.9" stroke-linejoin="round" opacity="1"/>
<rect x="86.4" y="202.9" width="186.70000000000002" height="150.4" fill="none" stroke="#5a5a5a" stroke-width="1.1"/>
<text x="72.4" y="205.4" font-size="7" font-weight="bold" font-family="'Liberation Serif', serif" fill="#222">10</text><text x="79.4" y="202.1" font-size="4.5" font-weight="bold" font-family="'Liberation Serif', serif" fill="#222">2</text>
<text x="72.4" y="217.0" font-size="7" font-weight="bold" font-family="'Liberation Serif', serif" fill="#222">10</text><text x="79.4" y="213.7" font-size="4.5" font-weight="bold" font-family="'Liberation Serif', serif" fill="#222">1</text>
<text x="72.4" y="228.5" font-size="7" font-weight="bold" font-family="'Liberation Serif', serif" fill="#222">10</text><text x="79.4" y="225.2" font-size="4.5" font-weight="bold" font-family="'Liberation Serif', serif" fill="#222">0</text>
<text x="72.4" y="240.1" font-size="7" font-weight="bold" font-family="'Liberation Serif', serif" fill="#222">10</text><text x="79.4" y="236.8" font-size="4.5" font-weight="bold" font-family="'Liberation Serif', serif" fill="#222">-1</text>
<text x="72.4" y="251.6" font-size="7" font-weight="bold" font-family="'Liberation Serif', serif" fill="#222">10</text><text x="79.4" y="248.3" font-size="4.5" font-weight="bold" font-family="'Liberation Serif', serif" fill="#222">-2</text>
<text x="72.4" y="263.1" font-size="7" font-weight="bold" font-family="'Liberation Serif', serif" fill="#222">10</text><text x="79.4" y="259.8" font-size="4.5" font-weight="bold" font-family="'Liberation Serif', serif" fill="#222">-3</text>
<text x="72.4" y="274.7" font-size="7" font-weight="bold" font-family="'Liberation Serif', serif" fill="#222">10</text><text x="79.4" y="271.4" font-size="4.5" font-weight="bold" font-family="'Liberation Serif', serif" fill="#222">-4</text>
<text x="72.4" y="286.2" font-size="7" font-weight="bold" font-family="'Liberation Serif', serif" fill="#222">10</text><text x="79.4" y="282.9" font-size="4.5" font-weight="bold" font-family="'Liberation Serif', serif" fill="#222">-5</text>
<text x="72.4" y="297.8" font-size="7" font-weight="bold" font-family="'Liberation Serif', serif" fill="#222">10</text><text x="79.4" y="294.5" font-size="4.5" font-weight="bold" font-family="'Liberation Serif', serif" fill="#222">-6</text>
<text x="72.4" y="309.4" font-size="7" font-weight="bold" font-family="'Liberation Serif', serif" fill="#222">10</text><text x="79.4" y="306.1" font-size="4.5" font-weight="bold" font-family="'Liberation Serif', serif" fill="#222">-7</text>
<text x="72.4" y="320.9" font-size="7" font-weight="bold" font-family="'Liberation Serif', serif" fill="#222">10</text><text x="79.4" y="317.6" font-size="4.5" font-weight="bold" font-family="'Liberation Serif', serif" fill="#222">-8</text>
<text x="72.4" y="332.5" font-size="7" font-weight="bold" font-family="'Liberation Serif', serif" fill="#222">10</text><text x="79.4" y="329.2" font-size="4.5" font-weight="bold" font-family="'Liberation Serif', serif" fill="#222">-9</text>
<text x="72.4" y="344.0" font-size="7" font-weight="bold" font-family="'Liberation Serif', serif" fill="#222">10</text><text x="79.4" y="340.7" font-size="4.5" font-weight="bold" font-family="'Liberation Serif', serif" fill="#222">-10</text>
<text x="72.4" y="355.6" font-size="7" font-weight="bold" font-family="'Liberation Serif', serif" fill="#222">10</text><text x="79.4" y="352.2" font-size="4.5" font-weight="bold" font-family="'Liberation Serif', serif" fill="#222">-11</text>
<text x="277.1" y="355.8" font-size="7" font-weight="bold" font-family="'Liberation Serif', serif" fill="#222">0</text>
<text x="277.1" y="337.0" font-size="7" font-weight="bold" font-family="'Liberation Serif', serif" fill="#222">2</text>
<text x="277.1" y="318.2" font-size="7" font-weight="bold" font-family="'Liberation Serif', serif" fill="#222">4</text>
<text x="277.1" y="299.4" font-size="7" font-weight="bold" font-family="'Liberation Serif', serif" fill="#222">6</text>
<text x="277.1" y="280.6" font-size="7" font-weight="bold" font-family="'Liberation Serif', serif" fill="#222">8</text>
<text x="277.1" y="261.8" font-size="7" font-weight="bold" font-family="'Liberation Serif', serif" fill="#222">10</text>
<text x="277.1" y="243.0" font-size="7" font-weight="bold" font-family="'Liberation Serif', serif" fill="#222">12</text>
<text x="277.1" y="224.2" font-size="7" font-weight="bold" font-family="'Liberation Serif', serif" fill="#222">14</text>
<text x="277.1" y="205.4" font-size="7" font-weight="bold" font-family="'Liberation Serif', serif" fill="#222">16</text>
<text x="88.6" y="361.8" font-size="7" font-weight="bold" text-anchor="middle" font-family="'Liberation Serif', serif" fill="#222">0</text>
<text x="113.0" y="361.8" font-size="7" font-weight="bold" text-anchor="middle" font-family="'Liberation Serif', serif" fill="#222">50</text>
<text x="137.3" y="361.8" font-size="7" font-weight="bold" text-anchor="middle" font-family="'Liberation Serif', serif" fill="#222">100</text>
<text x="161.7" y="361.8" font-size="7" font-weight="bold" text-anchor="middle" font-family="'Liberation Serif', serif" fill="#222">150</text>
<text x="186.1" y="361.8" font-size="7" font-weight="bold" text-anchor="middle" font-family="'Liberation Serif', serif" fill="#222">200</text>
<text x="210.5" y="361.8" font-size="7" font-weight="bold" text-anchor="middle" font-family="'Liberation Serif', serif" fill="#222">250</text>
<text x="234.8" y="361.8" font-size="7" font-weight="bold" text-anchor="middle" font-family="'Liberation Serif', serif" fill="#222">300</text>
<text x="259.2" y="361.8" font-size="7" font-weight="bold" text-anchor="middle" font-family="'Liberation Serif', serif" fill="#222">350</text>
<path d="M86.4,202.9h3 M86.4,211.0h1.8 M86.4,208.9h1.8 M86.4,207.5h1.8 M86.4,206.4h1.8 M86.4,205.5h1.8 M86.4,204.7h1.8 M86.4,204.0h1.8 M86.4,203.4h1.8 M86.4,214.5h3 M86.4,222.5h1.8 M86.4,220.5h1.8 M86.4,219.0h1.8 M86.4,217.9h1.8 M86.4,217.0h1.8 M86.4,216.2h1.8 M86.4,215.6h1.8 M86.4,215.0h1.8 M86.4,226.0h3 M86.4,234.1h1.8 M86.4,232.0h1.8 M86.4,230.6h1.8 M86.4,229.5h1.8 M86.4,228.6h1.8 M86.4,227.8h1.8 M86.4,227.1h1.8 M86.4,226.5h1.8 M86.4,237.6h3 M86.4,245.6h1.8 M86.4,243.6h1.8 M86.4,242.1h1.8 M86.4,241.0h1.8 M86.4,240.1h1.8 M86.4,239.3h1.8 M86.4,238.7h1.8 M86.4,238.1h1.8 M86.4,249.1h3 M86.4,257.2h1.8 M86.4,255.1h1.8 M86.4,253.7h1.8 M86.4,252.6h1.8 M86.4,251.7h1.8 M86.4,250.9h1.8 M86.4,250.2h1.8 M86.4,249.6h1.8 M86.4,260.6h3 M86.4,268.7h1.8 M86.4,266.7h1.8 M86.4,265.2h1.8 M86.4,264.1h1.8 M86.4,263.2h1.8 M86.4,262.4h1.8 M86.4,261.8h1.8 M86.4,261.2h1.8 M86.4,272.2h3 M86.4,280.3h1.8 M86.4,278.2h1.8 M86.4,276.8h1.8 M86.4,275.7h1.8 M86.4,274.8h1.8 M86.4,274.0h1.8 M86.4,273.3h1.8 M86.4,272.7h1.8 M86.4,283.8h3 M86.4,291.8h1.8 M86.4,289.8h1.8 M86.4,288.3h1.8 M86.4,287.2h1.8 M86.4,286.3h1.8 M86.4,285.5h1.8 M86.4,284.9h1.8 M86.4,284.3h1.8 M86.4,295.3h3 M86.4,303.4h1.8 M86.4,301.3h1.8 M86.4,299.9h1.8 M86.4,298.8h1.8 M86.4,297.9h1.8 M86.4,297.1h1.8 M86.4,296.4h1.8 M86.4,295.8h1.8 M86.4,306.9h3 M86.4,314.9h1.8 M86.4,312.9h1.8 M86.4,311.4h1.8 M86.4,310.3h1.8 M86.4,309.4h1.8 M86.4,308.6h1.8 M86.4,308.0h1.8 M86.4,307.4h1.8 M86.4,318.4h3 M86.4,326.5h1.8 M86.4,324.4h1.8 M86.4,323.0h1.8 M86.4,321.9h1.8 M86.4,321.0h1.8 M86.4,320.2h1.8 M86.4,319.5h1.8 M86.4,318.9h1.8 M86.4,330.0h3 M86.4,338.0h1.8 M86.4,336.0h1.8 M86.4,334.5h1.8 M86.4,333.4h1.8 M86.4,332.5h1.8 M86.4,331.7h1.8 M86.4,331.1h1.8 M86.4,330.5h1.8 M86.4,341.5h3 M86.4,349.6h1.8 M86.4,347.5h1.8 M86.4,346.1h1.8 M86.4,345.0h1.8 M86.4,344.1h1.8 M86.4,343.3h1.8 M86.4,342.6h1.8 M86.4,342.0h1.8 M86.4,353.1h3 M273.1,353.3h-3 M273.1,343.9h-1.8 M273.1,334.5h-3 M273.1,325.1h-1.8 M273.1,315.7h-3 M273.1,306.3h-1.8 M273.1,296.9h-3 M273.1,287.5h-1.8 M273.1,278.1h-3 M273.1,268.7h-1.8 M273.1,259.3h-3 M273.1,249.9h-1.8 M273.1,240.5h-3 M273.1,231.1h-1.8 M273.1,221.7h-3 M273.1,212.3h-1.8 M273.1,202.9h-3 M88.6,353.3v-3 M100.8,353.3v-1.8 M113.0,353.3v-3 M125.2,353.3v-1.8 M137.3,353.3v-3 M149.5,353.3v-1.8 M161.7,353.3v-3 M173.9,353.3v-1.8 M186.1,353.3v-3 M198.3,353.3v-1.8 M210.5,353.3v-3 M222.7,353.3v-1.8 M234.8,353.3v-3 M247.0,353.3v-1.8 M259.2,353.3v-3 M271.4,353.3v-1.8" stroke="#222" stroke-width="0.7" fill="none"/>
<text x="182.8" y="373.3" font-size="7.5" letter-spacing="1.8" text-anchor="middle" font-family="'Liberation Serif', serif" fill="#333">时间（天）</text>
<text transform="translate(64.5,275.6) rotate(-90)" font-size="8.2" text-anchor="middle" font-family="'Liberation Serif', serif" fill="#222">土壤水中氚浓度（<tspan font-weight="bold">Bq/cm<tspan font-size="5" dy="-3">3</tspan><tspan dy="3">）</tspan></tspan></text>
<text transform="translate(292.3,278.5) rotate(-90)" font-size="8" text-anchor="middle" font-family="'Liberation Serif', serif" fill="#222">降水量（<tspan font-weight="bold">cm</tspan>）</text>
<line x1="98.8" y1="212" x2="109.8" y2="212" stroke="#c8c8c8" stroke-width="1"/>
<text x="112.3" y="214.3" font-size="5.6" font-family="'Liberation Serif', serif" fill="#333">降水量</text>
<line x1="233.3" y1="207.5" x2="245.0" y2="207.5" stroke="#333" stroke-width="0.8"/>
<text x="247.60000000000002" y="209.5" font-size="5.4" font-family="'Liberation Serif', serif" fill="#333">10cm</text>
<line x1="233.3" y1="213.5" x2="245.0" y2="213.5" stroke="#e8453c" stroke-width="0.8"/>
<text x="247.60000000000002" y="215.5" font-size="5.4" font-family="'Liberation Serif', serif" fill="#333">30cm</text>
<line x1="233.3" y1="219.5" x2="245.0" y2="219.5" stroke="#3d70db" stroke-width="0.8"/>
<text x="247.60000000000002" y="221.5" font-size="5.4" font-family="'Liberation Serif', serif" fill="#333">50cm</text>
<line x1="233.3" y1="225.5" x2="245.0" y2="225.5" stroke="#3aa55a" stroke-width="0.8"/>
<text x="247.60000000000002" y="227.5" font-size="5.4" font-family="'Liberation Serif', serif" fill="#333">100cm</text>
<text x="434.8" y="193" font-size="13" letter-spacing="1.5" text-anchor="middle" font-family="'Liberation Serif', serif" fill="#222">砂质壤土</text>
<path d="M352.6,353 L353.6,347.5 L354.6,353 M355.5,353 L356.5,333.2 L357.5,353 M358.6,353 L359.6,348.6 L360.6,353 M360.1,353 L361.1,348.0 L362.1,353 M362.8,353 L363.8,333.7 L364.8,353 M364.1,353 L365.1,343.0 L366.1,353 M365.8,353 L366.8,330.4 L367.8,353 M368.0,353 L369.0,340.3 L370.0,353 M380.1,353 L381.1,327.1 L382.1,353 M381.7,353 L382.7,339.0 L383.7,353 M383.4,353 L384.4,327.7 L385.4,353 M385.6,353 L386.6,340.3 L387.6,353 M387.8,353 L388.8,343.6 L389.8,353 M394.9,353 L395.9,343.6 L396.9,353 M398.8,353 L399.8,337.0 L400.8,353 M400.4,353 L401.4,335.9 L402.4,353 M402.6,353 L403.6,337.0 L404.6,353 M408.1,353 L409.1,335.9 L410.1,353 M413.6,353 L414.6,342.5 L415.6,353 M416.9,353 L417.9,338.7 L418.9,353 M420.5,353 L421.5,322.7 L422.5,353 M423.6,353 L424.6,331.0 L425.6,353 M427.1,353 L428.1,326.6 L429.1,353 M429.6,353 L430.6,338.1 L431.6,353 M432.4,353 L433.4,328.2 L434.4,353 M437.3,353 L438.3,344.3 L439.3,353 M440.1,353 L441.1,331.1 L442.1,353 M442.7,353 L443.7,328.8 L444.7,353 M444.4,353 L445.4,346.6 L446.4,353 M455.3,353 L456.3,335.1 L457.3,353 M457.6,353 L458.6,345.0 L459.6,353 M460.3,353 L461.3,344.8 L462.3,353 M464.5,353 L465.5,340.8 L466.5,353 M468.5,353 L469.5,309.8 L470.5,353 M475.4,353 L476.4,342.5 L477.4,353 M480.0,353 L481.0,347.7 L482.0,353 M488.6,353 L489.6,344.8 L490.6,353 M492.6,353 L493.6,346.0 L494.6,353 M494.9,353 L495.9,347.7 L496.9,353 M498.9,353 L499.9,338.0 L500.9,353 M500.6,353 L501.6,348.0 L502.6,353 M505.2,353 L506.2,326.5 L507.2,353 M508.7,353 L509.7,346.0 L510.7,353 M514.4,353 L515.4,341.4 L516.4,353 M516.7,353 L517.7,339.1 L518.7,353 M520.7,353 L521.7,338.0 L522.7,353" fill="none" stroke="#cdcdcd" stroke-width="0.6"/>
<path d="M351.8,353.0 L352.9,310.7 L354.8,281.2 L357.7,259.0 L362.1,240.6 L367.7,227.7 L371.6,228.6 L375.1,227.4 L377.5,226.8 L379.9,230.9 L382.9,232.7 L385.2,238.1 L385.8,227.4 L388.2,219.0 L390.6,216.1 L395.3,215.5 L396.5,219.0 L399.0,215.5 L401.3,222.6 L403.7,216.1 L405.0,215.5 L409.8,216.7 L414.5,219.0 L419.3,216.7 L424.0,218.4 L428.8,217.8 L431.2,219.0 L435.9,215.5 L440.7,219.0 L443.1,222.6 L444.3,215.5 L447.8,214.3 L450.2,216.7 L451.4,221.4 L453.8,217.2 L456.2,217.8 L457.3,233.3 L458.3,253.3 L460.0,245.0 L461.7,248.3 L465.0,241.7 L466.3,298.3 L467.5,253.3 L469.2,264.2 L470.3,251.7 L471.3,256.7 L471.9,218.4 L477.9,219.0 L479.1,223.8 L489.8,225.0 L490.4,227.4 L491.6,235.7 L493.4,229.7 L495.1,232.7 L496.7,248.3 L498.3,240.0 L501.7,246.7 L502.5,273.3 L504.2,251.7 L506.7,245.0 L508.3,241.7 L508.8,221.4 L518.3,221.4 L521.9,223.2 L523.1,225.6" fill="none" stroke="#3aa55a" stroke-width="0.8" stroke-linejoin="round" opacity="1"/>
<path d="M347.6,353.0 L347.6,250.0 L348.4,230.0 L348.9,220.2 L349.5,219.6 L350.1,223.8 L353.1,225.0 L355.5,225.6 L356.3,215.5 L357.0,224.4 L361.4,223.8 L362.6,222.6 L364.4,230.9 L366.2,232.1 L367.4,213.7 L368.6,214.3 L378.7,214.9 L381.1,216.1 L381.7,222.6 L382.9,217.8 L384.0,208.9 L385.2,207.1 L386.4,209.5 L388.8,215.5 L395.3,214.9 L396.5,217.8 L400.1,213.1 L401.3,210.7 L402.5,214.3 L403.7,208.3 L407.0,211.9 L409.8,217.8 L412.1,213.1 L414.5,207.7 L416.3,207.1 L416.9,215.5 L420.5,215.5 L421.7,223.8 L423.4,227.4 L424.6,210.7 L425.8,217.8 L428.2,211.9 L428.8,222.0 L430.6,204.2 L432.4,205.9 L433.6,209.5 L435.9,210.7 L439.5,211.9 L440.7,216.7 L441.9,222.6 L444.3,219.0 L446.6,222.6 L449.0,220.2 L450.2,222.0 L452.0,216.7 L456.2,217.8 L457.3,208.9 L460.9,207.7 L462.1,211.9 L466.0,211.3 L469.0,211.3 L470.2,215.5 L471.0,229.1 L471.9,219.0 L475.5,223.2 L476.7,225.6 L478.5,225.6 L479.7,220.2 L480.9,219.6 L482.0,223.2 L489.8,223.8 L491.0,216.7 L493.4,216.1 L494.6,219.6 L496.3,212.5 L498.7,211.9 L499.9,219.0 L501.7,214.9 L504.1,213.7 L505.9,220.2 L507.0,229.7 L509.4,232.7 L512.4,232.1 L514.8,230.3 L516.0,234.5 L518.3,237.5 L520.7,233.9 L521.9,227.4 L522.9,205.4" fill="none" stroke="#505050" stroke-width="0.8" stroke-linejoin="round" opacity="1"/>
<path d="M348.8,353.0 L349.0,250.0 L350.1,230.3 L351.3,229.1 L355.5,228.6 L357.3,224.4 L364.4,225.6 L366.8,227.4 L368.6,217.8 L378.7,217.8 L382.3,219.0 L384.0,216.7 L385.2,211.3 L386.4,209.5 L388.8,210.0 L395.3,211.3 L400.1,213.1 L405.0,211.9 L412.1,215.5 L414.5,213.0 L418.1,212.5 L422.8,216.7 L424.0,219.0 L428.8,216.7 L431.8,209.5 L433.6,208.9 L440.7,210.7 L443.7,216.7 L446.6,218.4 L455.0,218.4 L457.3,216.1 L462.1,213.7 L466.0,212.0 L469.0,212.5 L471.0,222.6 L475.5,223.2 L483.8,223.8 L489.8,224.4 L494.6,221.4 L500.5,218.4 L505.3,217.8 L507.6,221.4 L511.2,225.0 L516.0,226.8 L521.3,228.6 L523.1,216.7" fill="none" stroke="#e8453c" stroke-width="0.8" stroke-linejoin="round" opacity="1"/>
<path d="M350.3,353.0 L351.1,255.4 L352.9,236.9 L355.5,229.5 L358.5,226.8 L364.4,226.8 L367.4,225.6 L370.4,220.8 L378.7,219.6 L383.4,219.6 L386.4,211.9 L388.2,210.7 L395.3,211.3 L407.0,213.1 L412.1,213.3 L419.3,212.7 L425.2,215.5 L430.0,216.7 L433.6,210.7 L440.7,211.3 L445.4,214.9 L452.6,216.7 L457.3,216.7 L459.7,219.0 L465.0,218.0 L470.2,215.5 L471.9,220.8 L477.9,221.4 L489.8,222.0 L498.1,223.2 L505.3,220.8 L508.8,222.0 L517.2,223.2 L521.9,224.4 L523.1,221.4" fill="none" stroke="#3d70db" stroke-width="0.9" stroke-linejoin="round" opacity="1"/>
<rect x="344" y="202.4" width="186.5" height="150.6" fill="none" stroke="#5a5a5a" stroke-width="1.1"/>
<text x="330" y="215.1" font-size="7" font-weight="bold" font-family="'Liberation Serif', serif" fill="#222">10</text><text x="337" y="211.8" font-size="4.5" font-weight="bold" font-family="'Liberation Serif', serif" fill="#222">-1</text>
<text x="330" y="229.1" font-size="7" font-weight="bold" font-family="'Liberation Serif', serif" fill="#222">10</text><text x="337" y="225.8" font-size="4.5" font-weight="bold" font-family="'Liberation Serif', serif" fill="#222">-2</text>
<text x="330" y="243.1" font-size="7" font-weight="bold" font-family="'Liberation Serif', serif" fill="#222">10</text><text x="337" y="239.8" font-size="4.5" font-weight="bold" font-family="'Liberation Serif', serif" fill="#222">-3</text>
<text x="330" y="257.1" font-size="7" font-weight="bold" font-family="'Liberation Serif', serif" fill="#222">10</text><text x="337" y="253.8" font-size="4.5" font-weight="bold" font-family="'Liberation Serif', serif" fill="#222">-4</text>
<text x="330" y="271.1" font-size="7" font-weight="bold" font-family="'Liberation Serif', serif" fill="#222">10</text><text x="337" y="267.8" font-size="4.5" font-weight="bold" font-family="'Liberation Serif', serif" fill="#222">-5</text>
<text x="330" y="285.1" font-size="7" font-weight="bold" font-family="'Liberation Serif', serif" fill="#222">10</text><text x="337" y="281.8" font-size="4.5" font-weight="bold" font-family="'Liberation Serif', serif" fill="#222">-6</text>
<text x="330" y="299.1" font-size="7" font-weight="bold" font-family="'Liberation Serif', serif" fill="#222">10</text><text x="337" y="295.8" font-size="4.5" font-weight="bold" font-family="'Liberation Serif', serif" fill="#222">-7</text>
<text x="330" y="313.1" font-size="7" font-weight="bold" font-family="'Liberation Serif', serif" fill="#222">10</text><text x="337" y="309.8" font-size="4.5" font-weight="bold" font-family="'Liberation Serif', serif" fill="#222">-8</text>
<text x="330" y="327.1" font-size="7" font-weight="bold" font-family="'Liberation Serif', serif" fill="#222">10</text><text x="337" y="323.8" font-size="4.5" font-weight="bold" font-family="'Liberation Serif', serif" fill="#222">-9</text>
<text x="330" y="341.1" font-size="7" font-weight="bold" font-family="'Liberation Serif', serif" fill="#222">10</text><text x="337" y="337.8" font-size="4.5" font-weight="bold" font-family="'Liberation Serif', serif" fill="#222">-10</text>
<text x="330" y="355.1" font-size="7" font-weight="bold" font-family="'Liberation Serif', serif" fill="#222">10</text><text x="337" y="351.8" font-size="4.5" font-weight="bold" font-family="'Liberation Serif', serif" fill="#222">-11</text>
<text x="534.5" y="355.5" font-size="7" font-weight="bold" font-family="'Liberation Serif', serif" fill="#222">0</text>
<text x="534.5" y="336.7" font-size="7" font-weight="bold" font-family="'Liberation Serif', serif" fill="#222">2</text>
<text x="534.5" y="317.9" font-size="7" font-weight="bold" font-family="'Liberation Serif', serif" fill="#222">4</text>
<text x="534.5" y="299.0" font-size="7" font-weight="bold" font-family="'Liberation Serif', serif" fill="#222">6</text>
<text x="534.5" y="280.2" font-size="7" font-weight="bold" font-family="'Liberation Serif', serif" fill="#222">8</text>
<text x="534.5" y="261.4" font-size="7" font-weight="bold" font-family="'Liberation Serif', serif" fill="#222">10</text>
<text x="534.5" y="242.6" font-size="7" font-weight="bold" font-family="'Liberation Serif', serif" fill="#222">12</text>
<text x="534.5" y="223.7" font-size="7" font-weight="bold" font-family="'Liberation Serif', serif" fill="#222">14</text>
<text x="534.5" y="204.9" font-size="7" font-weight="bold" font-family="'Liberation Serif', serif" fill="#222">16</text>
<text x="345.7" y="361.5" font-size="7" font-weight="bold" text-anchor="middle" font-family="'Liberation Serif', serif" fill="#222">0</text>
<text x="370.1" y="361.5" font-size="7" font-weight="bold" text-anchor="middle" font-family="'Liberation Serif', serif" fill="#222">50</text>
<text x="394.4" y="361.5" font-size="7" font-weight="bold" text-anchor="middle" font-family="'Liberation Serif', serif" fill="#222">100</text>
<text x="418.8" y="361.5" font-size="7" font-weight="bold" text-anchor="middle" font-family="'Liberation Serif', serif" fill="#222">150</text>
<text x="443.1" y="361.5" font-size="7" font-weight="bold" text-anchor="middle" font-family="'Liberation Serif', serif" fill="#222">200</text>
<text x="467.4" y="361.5" font-size="7" font-weight="bold" text-anchor="middle" font-family="'Liberation Serif', serif" fill="#222">250</text>
<text x="491.8" y="361.5" font-size="7" font-weight="bold" text-anchor="middle" font-family="'Liberation Serif', serif" fill="#222">300</text>
<text x="516.1" y="361.5" font-size="7" font-weight="bold" text-anchor="middle" font-family="'Liberation Serif', serif" fill="#222">350</text>
<path d="M344,212.6h3 M344,222.4h1.8 M344,219.9h1.8 M344,218.2h1.8 M344,216.8h1.8 M344,215.7h1.8 M344,214.8h1.8 M344,214.0h1.8 M344,213.3h1.8 M344,226.6h3 M344,236.4h1.8 M344,233.9h1.8 M344,232.2h1.8 M344,230.8h1.8 M344,229.7h1.8 M344,228.8h1.8 M344,228.0h1.8 M344,227.3h1.8 M344,240.6h3 M344,250.4h1.8 M344,247.9h1.8 M344,246.2h1.8 M344,244.8h1.8 M344,243.7h1.8 M344,242.8h1.8 M344,242.0h1.8 M344,241.3h1.8 M344,254.6h3 M344,264.4h1.8 M344,261.9h1.8 M344,260.2h1.8 M344,258.8h1.8 M344,257.7h1.8 M344,256.8h1.8 M344,256.0h1.8 M344,255.3h1.8 M344,268.6h3 M344,278.4h1.8 M344,275.9h1.8 M344,274.2h1.8 M344,272.8h1.8 M344,271.7h1.8 M344,270.8h1.8 M344,270.0h1.8 M344,269.3h1.8 M344,282.6h3 M344,292.4h1.8 M344,289.9h1.8 M344,288.2h1.8 M344,286.8h1.8 M344,285.7h1.8 M344,284.8h1.8 M344,284.0h1.8 M344,283.3h1.8 M344,296.6h3 M344,306.4h1.8 M344,303.9h1.8 M344,302.2h1.8 M344,300.8h1.8 M344,299.7h1.8 M344,298.8h1.8 M344,298.0h1.8 M344,297.3h1.8 M344,310.6h3 M344,320.4h1.8 M344,317.9h1.8 M344,316.2h1.8 M344,314.8h1.8 M344,313.7h1.8 M344,312.8h1.8 M344,312.0h1.8 M344,311.3h1.8 M344,324.6h3 M344,334.4h1.8 M344,331.9h1.8 M344,330.2h1.8 M344,328.8h1.8 M344,327.7h1.8 M344,326.8h1.8 M344,326.0h1.8 M344,325.3h1.8 M344,338.6h3 M344,348.4h1.8 M344,345.9h1.8 M344,344.2h1.8 M344,342.8h1.8 M344,341.7h1.8 M344,340.8h1.8 M344,340.0h1.8 M344,339.3h1.8 M344,352.6h3 M530.5,353.0h-3 M530.5,343.6h-1.8 M530.5,334.2h-3 M530.5,324.8h-1.8 M530.5,315.4h-3 M530.5,305.9h-1.8 M530.5,296.5h-3 M530.5,287.1h-1.8 M530.5,277.7h-3 M530.5,268.3h-1.8 M530.5,258.9h-3 M530.5,249.5h-1.8 M530.5,240.1h-3 M530.5,230.6h-1.8 M530.5,221.2h-3 M530.5,211.8h-1.8 M530.5,202.4h-3 M345.7,353v-3 M357.9,353v-1.8 M370.1,353v-3 M382.2,353v-1.8 M394.4,353v-3 M406.6,353v-1.8 M418.8,353v-3 M430.9,353v-1.8 M443.1,353v-3 M455.3,353v-1.8 M467.4,353v-3 M479.6,353v-1.8 M491.8,353v-3 M504.0,353v-1.8 M516.1,353v-3 M528.3,353v-1.8" stroke="#222" stroke-width="0.7" fill="none"/>
<text x="440.2" y="373.3" font-size="7.5" letter-spacing="1.8" text-anchor="middle" font-family="'Liberation Serif', serif" fill="#333">时间（天）</text>
<text transform="translate(324,278.2) rotate(-90)" font-size="8.2" text-anchor="middle" font-family="'Liberation Serif', serif" fill="#222">土壤水中氚浓度（<tspan font-weight="bold">Bq/cm<tspan font-size="5" dy="-3">3</tspan><tspan dy="3">）</tspan></tspan></text>
<text transform="translate(549.7,278.1) rotate(-90)" font-size="8" text-anchor="middle" font-family="'Liberation Serif', serif" fill="#222">降水量（<tspan font-weight="bold">cm</tspan>）</text>
<line x1="356.7" y1="308" x2="367.7" y2="308" stroke="#c8c8c8" stroke-width="1"/>
<text x="370.2" y="310.3" font-size="5.6" font-family="'Liberation Serif', serif" fill="#333">降水量</text>
<line x1="490.5" y1="288.0" x2="502.2" y2="288.0" stroke="#333" stroke-width="0.8"/>
<text x="504.8" y="290.0" font-size="5.4" font-family="'Liberation Serif', serif" fill="#333">10cm</text>
<line x1="490.5" y1="294.8" x2="502.2" y2="294.8" stroke="#e8453c" stroke-width="0.8"/>
<text x="504.8" y="296.8" font-size="5.4" font-family="'Liberation Serif', serif" fill="#333">30cm</text>
<line x1="490.5" y1="301.6" x2="502.2" y2="301.6" stroke="#3d70db" stroke-width="0.8"/>
<text x="504.8" y="303.6" font-size="5.4" font-family="'Liberation Serif', serif" fill="#333">50cm</text>
<line x1="490.5" y1="308.4" x2="502.2" y2="308.4" stroke="#3aa55a" stroke-width="0.8"/>
<text x="504.8" y="310.4" font-size="5.4" font-family="'Liberation Serif', serif" fill="#333">100cm</text>
<text x="697.9" y="193" font-size="13" letter-spacing="1.5" text-anchor="middle" font-family="'Liberation Serif', serif" fill="#222">壤质砂土</text>
<path d="M609.5,353.5 L610.5,347.5 L611.5,353.5 M612.4,353.5 L613.4,333.2 L614.4,353.5 M615.5,353.5 L616.5,348.6 L617.5,353.5 M617.0,353.5 L618.0,348.0 L619.0,353.5 M619.7,353.5 L620.7,333.7 L621.7,353.5 M621.0,353.5 L622.0,343.0 L623.0,353.5 M622.7,353.5 L623.7,330.4 L624.7,353.5 M624.9,353.5 L625.9,340.3 L626.9,353.5 M637.0,353.5 L638.0,327.1 L639.0,353.5 M638.6,353.5 L639.6,339.0 L640.6,353.5 M640.3,353.5 L641.3,327.7 L642.3,353.5 M642.5,353.5 L643.5,340.3 L644.5,353.5 M644.7,353.5 L645.7,343.6 L646.7,353.5 M651.8,353.5 L652.8,343.6 L653.8,353.5 M655.7,353.5 L656.7,337.0 L657.7,353.5 M657.3,353.5 L658.3,335.9 L659.3,353.5 M659.5,353.5 L660.5,337.0 L661.5,353.5 M665.0,353.5 L666.0,335.9 L667.0,353.5 M670.5,353.5 L671.5,342.5 L672.5,353.5 M673.8,353.5 L674.8,338.7 L675.8,353.5 M677.4,353.5 L678.4,322.7 L679.4,353.5 M680.5,353.5 L681.5,331.0 L682.5,353.5 M684.0,353.5 L685.0,326.6 L686.0,353.5 M686.5,353.5 L687.5,338.1 L688.5,353.5 M689.3,353.5 L690.3,328.2 L691.3,353.5 M694.2,353.5 L695.2,344.3 L696.2,353.5 M697.0,353.5 L698.0,331.1 L699.0,353.5 M699.6,353.5 L700.6,328.8 L701.6,353.5 M701.3,353.5 L702.3,346.6 L703.3,353.5 M712.2,353.5 L713.2,335.1 L714.2,353.5 M714.5,353.5 L715.5,345.0 L716.5,353.5 M717.2,353.5 L718.2,344.8 L719.2,353.5 M721.4,353.5 L722.4,340.8 L723.4,353.5 M725.4,353.5 L726.4,309.8 L727.4,353.5 M732.3,353.5 L733.3,342.5 L734.3,353.5 M736.9,353.5 L737.9,347.7 L738.9,353.5 M745.5,353.5 L746.5,344.8 L747.5,353.5 M749.5,353.5 L750.5,346.0 L751.5,353.5 M751.8,353.5 L752.8,347.7 L753.8,353.5 M755.8,353.5 L756.8,338.0 L757.8,353.5 M757.5,353.5 L758.5,348.0 L759.5,353.5 M762.1,353.5 L763.1,326.5 L764.1,353.5 M765.6,353.5 L766.6,346.0 L767.6,353.5 M771.3,353.5 L772.3,341.4 L773.3,353.5 M773.6,353.5 L774.6,339.1 L775.6,353.5 M777.6,353.5 L778.6,338.0 L779.6,353.5" fill="none" stroke="#cdcdcd" stroke-width="0.6"/>
<path d="M610.3,353.0 L611.7,294.8 L613.1,281.1 L615.0,272.9 L617.2,256.4 L619.9,251.0 L625.4,246.8 L628.6,247.0 L633.3,246.0 L635.0,249.0 L636.2,250.7 L638.1,254.5 L640.0,261.2 L640.7,267.4 L641.9,246.0 L644.8,238.3 L653.3,238.3 L656.2,240.2 L657.4,261.0 L658.6,240.2 L660.0,237.9 L666.4,238.9 L672.9,244.3 L676.0,237.9 L681.4,240.0 L687.9,237.9 L694.3,240.0 L697.5,246.4 L699.0,257.1 L700.7,240.0 L703.9,240.0 L706.1,248.6 L707.1,257.1 L709.3,248.6 L711.4,252.9 L713.6,272.1 L715.3,307.5 L716.8,272.1 L722.1,262.5 L723.2,276.4 L724.3,307.5 L725.4,270.0 L726.4,307.5 L728.1,244.0 L732.6,248.6 L734.7,255.0 L737.9,252.9 L741.1,255.0 L744.3,252.9 L747.6,262.5 L749.7,260.4 L752.9,268.9 L756.1,263.6 L758.3,275.4 L760.4,307.5 L761.5,280.7 L763.2,265.7 L764.7,244.3 L773.3,245.4 L777.6,247.5 L778.6,251.8 L780.1,248.6" fill="none" stroke="#3aa55a" stroke-width="0.8" stroke-linejoin="round" opacity="1"/>
<path d="M604.8,353.0 L605.6,242.2 L606.2,248.7 L609.0,250.3 L611.5,248.8 L612.4,239.1 L612.9,247.7 L618.0,247.8 L620.5,256.3 L622.9,258.2 L623.3,238.2 L625.0,238.8 L636.5,239.1 L637.6,242.5 L638.1,249.1 L639.5,244.8 L641.4,232.9 L642.4,236.3 L645.7,242.9 L651.4,242.5 L652.4,246.8 L653.3,241.5 L657.1,234.8 L657.6,242.8 L660.0,234.4 L660.5,242.8 L664.0,240.1 L666.0,240.8 L666.8,246.3 L668.7,242.0 L671.5,232.5 L672.5,240.1 L675.3,240.1 L678.2,251.5 L680.1,255.3 L681.0,234.8 L682.5,240.1 L683.9,238.2 L684.9,249.6 L685.8,241.0 L687.2,230.1 L688.7,235.3 L690.6,239.1 L694.4,239.1 L698.2,242.0 L699.1,252.5 L700.1,246.8 L703.0,248.7 L712.5,248.7 L713.4,235.3 L715.3,232.9 L718.0,233.4 L718.5,238.2 L721.0,240.1 L723.0,240.6 L724.0,237.2 L726.4,238.2 L727.3,254.4 L727.8,250.6 L729.7,251.5 L732.1,246.3 L733.5,250.6 L735.4,252.5 L737.3,251.5 L738.8,256.3 L745.9,256.3 L746.9,241.0 L748.8,240.1 L750.2,244.8 L751.6,244.8 L752.6,236.3 L755.4,235.8 L756.4,242.9 L757.3,238.2 L762.1,237.2 L763.0,244.8 L764.0,257.2 L765.9,261.0 L769.7,261.0 L771.6,262.9 L774.1,264.9 L776.7,263.6 L778.0,257.0 L779.3,230.8" fill="none" stroke="#505050" stroke-width="0.8" stroke-linejoin="round" opacity="1"/>
<path d="M606.2,353.0 L606.2,249.6 L611.4,248.7 L613.3,246.3 L620.0,248.2 L622.9,252.9 L623.8,241.0 L625.7,240.1 L637.1,241.0 L639.0,244.8 L641.9,234.8 L643.8,236.3 L645.7,238.7 L653.3,240.1 L657.1,241.0 L660.0,236.8 L662.0,236.3 L665.8,237.2 L667.7,241.0 L671.5,241.0 L673.4,235.8 L676.3,241.0 L680.1,247.7 L681.0,241.0 L684.9,242.0 L687.2,232.9 L689.6,233.4 L690.6,237.2 L698.2,242.0 L700.1,245.8 L703.9,247.7 L712.5,247.7 L713.9,237.2 L719.1,236.3 L724.0,236.8 L726.9,247.7 L729.7,250.6 L733.5,251.5 L738.3,253.4 L746.9,253.4 L748.8,245.8 L752.6,242.5 L754.5,240.6 L757.3,242.0 L759.2,240.6 L763.0,242.0 L765.0,250.6 L768.8,253.9 L773.5,255.3 L776.4,259.1 L778.3,259.1 L779.2,235.3" fill="none" stroke="#e8453c" stroke-width="0.8" stroke-linejoin="round" opacity="1"/>
<path d="M608.4,353.0 L609.0,267.4 L610.3,259.2 L614.4,255.0 L618.5,251.0 L621.0,248.7 L623.3,250.6 L624.8,242.5 L628.6,242.0 L637.1,242.9 L639.0,243.9 L641.9,235.8 L645.7,236.3 L653.3,238.7 L657.1,241.0 L664.0,237.2 L667.7,239.1 L669.6,242.5 L674.4,238.2 L679.0,241.0 L681.0,244.8 L684.9,241.0 L687.7,243.9 L689.6,234.8 L698.2,238.2 L701.0,244.8 L705.8,246.8 L713.4,247.2 L715.3,240.1 L724.0,239.6 L726.9,246.8 L728.0,248.7 L731.6,250.6 L737.3,252.0 L746.9,252.9 L749.7,251.0 L757.3,244.4 L758.3,242.9 L762.1,242.9 L764.0,247.7 L767.8,250.6 L774.5,252.5 L778.3,255.3 L779.7,242.9" fill="none" stroke="#3d70db" stroke-width="0.9" stroke-linejoin="round" opacity="1"/>
<rect x="600.7" y="203.1" width="185.5" height="150.4" fill="none" stroke="#5a5a5a" stroke-width="1.1"/>
<text x="586.7" y="205.6" font-size="7" font-weight="bold" font-family="'Liberation Serif', serif" fill="#222">10</text><text x="593.7" y="202.3" font-size="4.5" font-weight="bold" font-family="'Liberation Serif', serif" fill="#222">2</text>
<text x="586.7" y="217.2" font-size="7" font-weight="bold" font-family="'Liberation Serif', serif" fill="#222">10</text><text x="593.7" y="213.8" font-size="4.5" font-weight="bold" font-family="'Liberation Serif', serif" fill="#222">1</text>
<text x="586.7" y="228.7" font-size="7" font-weight="bold" font-family="'Liberation Serif', serif" fill="#222">10</text><text x="593.7" y="225.4" font-size="4.5" font-weight="bold" font-family="'Liberation Serif', serif" fill="#222">0</text>
<text x="586.7" y="240.2" font-size="7" font-weight="bold" font-family="'Liberation Serif', serif" fill="#222">10</text><text x="593.7" y="236.9" font-size="4.5" font-weight="bold" font-family="'Liberation Serif', serif" fill="#222">-1</text>
<text x="586.7" y="251.8" font-size="7" font-weight="bold" font-family="'Liberation Serif', serif" fill="#222">10</text><text x="593.7" y="248.5" font-size="4.5" font-weight="bold" font-family="'Liberation Serif', serif" fill="#222">-2</text>
<text x="586.7" y="263.4" font-size="7" font-weight="bold" font-family="'Liberation Serif', serif" fill="#222">10</text><text x="593.7" y="260.1" font-size="4.5" font-weight="bold" font-family="'Liberation Serif', serif" fill="#222">-3</text>
<text x="586.7" y="274.9" font-size="7" font-weight="bold" font-family="'Liberation Serif', serif" fill="#222">10</text><text x="593.7" y="271.6" font-size="4.5" font-weight="bold" font-family="'Liberation Serif', serif" fill="#222">-4</text>
<text x="586.7" y="286.4" font-size="7" font-weight="bold" font-family="'Liberation Serif', serif" fill="#222">10</text><text x="593.7" y="283.1" font-size="4.5" font-weight="bold" font-family="'Liberation Serif', serif" fill="#222">-5</text>
<text x="586.7" y="298.0" font-size="7" font-weight="bold" font-family="'Liberation Serif', serif" fill="#222">10</text><text x="593.7" y="294.7" font-size="4.5" font-weight="bold" font-family="'Liberation Serif', serif" fill="#222">-6</text>
<text x="586.7" y="309.6" font-size="7" font-weight="bold" font-family="'Liberation Serif', serif" fill="#222">10</text><text x="593.7" y="306.2" font-size="4.5" font-weight="bold" font-family="'Liberation Serif', serif" fill="#222">-7</text>
<text x="586.7" y="321.1" font-size="7" font-weight="bold" font-family="'Liberation Serif', serif" fill="#222">10</text><text x="593.7" y="317.8" font-size="4.5" font-weight="bold" font-family="'Liberation Serif', serif" fill="#222">-8</text>
<text x="586.7" y="332.6" font-size="7" font-weight="bold" font-family="'Liberation Serif', serif" fill="#222">10</text><text x="593.7" y="329.3" font-size="4.5" font-weight="bold" font-family="'Liberation Serif', serif" fill="#222">-9</text>
<text x="586.7" y="344.2" font-size="7" font-weight="bold" font-family="'Liberation Serif', serif" fill="#222">10</text><text x="593.7" y="340.9" font-size="4.5" font-weight="bold" font-family="'Liberation Serif', serif" fill="#222">-10</text>
<text x="586.7" y="355.8" font-size="7" font-weight="bold" font-family="'Liberation Serif', serif" fill="#222">10</text><text x="593.7" y="352.4" font-size="4.5" font-weight="bold" font-family="'Liberation Serif', serif" fill="#222">-11</text>
<text x="790.2" y="356.0" font-size="7" font-weight="bold" font-family="'Liberation Serif', serif" fill="#222">0</text>
<text x="790.2" y="337.2" font-size="7" font-weight="bold" font-family="'Liberation Serif', serif" fill="#222">2</text>
<text x="790.2" y="318.4" font-size="7" font-weight="bold" font-family="'Liberation Serif', serif" fill="#222">4</text>
<text x="790.2" y="299.6" font-size="7" font-weight="bold" font-family="'Liberation Serif', serif" fill="#222">6</text>
<text x="790.2" y="280.8" font-size="7" font-weight="bold" font-family="'Liberation Serif', serif" fill="#222">8</text>
<text x="790.2" y="262.0" font-size="7" font-weight="bold" font-family="'Liberation Serif', serif" fill="#222">10</text>
<text x="790.2" y="243.2" font-size="7" font-weight="bold" font-family="'Liberation Serif', serif" fill="#222">12</text>
<text x="790.2" y="224.4" font-size="7" font-weight="bold" font-family="'Liberation Serif', serif" fill="#222">14</text>
<text x="790.2" y="205.6" font-size="7" font-weight="bold" font-family="'Liberation Serif', serif" fill="#222">16</text>
<text x="602.6" y="362.0" font-size="7" font-weight="bold" text-anchor="middle" font-family="'Liberation Serif', serif" fill="#222">0</text>
<text x="627.0" y="362.0" font-size="7" font-weight="bold" text-anchor="middle" font-family="'Liberation Serif', serif" fill="#222">50</text>
<text x="651.4" y="362.0" font-size="7" font-weight="bold" text-anchor="middle" font-family="'Liberation Serif', serif" fill="#222">100</text>
<text x="675.8" y="362.0" font-size="7" font-weight="bold" text-anchor="middle" font-family="'Liberation Serif', serif" fill="#222">150</text>
<text x="700.2" y="362.0" font-size="7" font-weight="bold" text-anchor="middle" font-family="'Liberation Serif', serif" fill="#222">200</text>
<text x="724.6" y="362.0" font-size="7" font-weight="bold" text-anchor="middle" font-family="'Liberation Serif', serif" fill="#222">250</text>
<text x="749.0" y="362.0" font-size="7" font-weight="bold" text-anchor="middle" font-family="'Liberation Serif', serif" fill="#222">300</text>
<text x="773.4" y="362.0" font-size="7" font-weight="bold" text-anchor="middle" font-family="'Liberation Serif', serif" fill="#222">350</text>
<path d="M600.7,203.1h3 M600.7,211.2h1.8 M600.7,209.1h1.8 M600.7,207.7h1.8 M600.7,206.6h1.8 M600.7,205.7h1.8 M600.7,204.9h1.8 M600.7,204.2h1.8 M600.7,203.6h1.8 M600.7,214.7h3 M600.7,222.7h1.8 M600.7,220.7h1.8 M600.7,219.2h1.8 M600.7,218.1h1.8 M600.7,217.2h1.8 M600.7,216.4h1.8 M600.7,215.8h1.8 M600.7,215.2h1.8 M600.7,226.2h3 M600.7,234.3h1.8 M600.7,232.2h1.8 M600.7,230.8h1.8 M600.7,229.7h1.8 M600.7,228.8h1.8 M600.7,228.0h1.8 M600.7,227.3h1.8 M600.7,226.7h1.8 M600.7,237.8h3 M600.7,245.8h1.8 M600.7,243.8h1.8 M600.7,242.3h1.8 M600.7,241.2h1.8 M600.7,240.3h1.8 M600.7,239.5h1.8 M600.7,238.9h1.8 M600.7,238.3h1.8 M600.7,249.3h3 M600.7,257.4h1.8 M600.7,255.3h1.8 M600.7,253.9h1.8 M600.7,252.8h1.8 M600.7,251.9h1.8 M600.7,251.1h1.8 M600.7,250.4h1.8 M600.7,249.8h1.8 M600.7,260.9h3 M600.7,268.9h1.8 M600.7,266.9h1.8 M600.7,265.4h1.8 M600.7,264.3h1.8 M600.7,263.4h1.8 M600.7,262.6h1.8 M600.7,262.0h1.8 M600.7,261.4h1.8 M600.7,272.4h3 M600.7,280.5h1.8 M600.7,278.4h1.8 M600.7,277.0h1.8 M600.7,275.9h1.8 M600.7,275.0h1.8 M600.7,274.2h1.8 M600.7,273.5h1.8 M600.7,272.9h1.8 M600.7,283.9h3 M600.7,292.0h1.8 M600.7,290.0h1.8 M600.7,288.5h1.8 M600.7,287.4h1.8 M600.7,286.5h1.8 M600.7,285.7h1.8 M600.7,285.1h1.8 M600.7,284.5h1.8 M600.7,295.5h3 M600.7,303.6h1.8 M600.7,301.5h1.8 M600.7,300.1h1.8 M600.7,299.0h1.8 M600.7,298.1h1.8 M600.7,297.3h1.8 M600.7,296.6h1.8 M600.7,296.0h1.8 M600.7,307.1h3 M600.7,315.1h1.8 M600.7,313.1h1.8 M600.7,311.6h1.8 M600.7,310.5h1.8 M600.7,309.6h1.8 M600.7,308.8h1.8 M600.7,308.2h1.8 M600.7,307.6h1.8 M600.7,318.6h3 M600.7,326.7h1.8 M600.7,324.6h1.8 M600.7,323.2h1.8 M600.7,322.1h1.8 M600.7,321.2h1.8 M600.7,320.4h1.8 M600.7,319.7h1.8 M600.7,319.1h1.8 M600.7,330.1h3 M600.7,338.2h1.8 M600.7,336.2h1.8 M600.7,334.7h1.8 M600.7,333.6h1.8 M600.7,332.7h1.8 M600.7,331.9h1.8 M600.7,331.3h1.8 M600.7,330.7h1.8 M600.7,341.7h3 M600.7,349.8h1.8 M600.7,347.7h1.8 M600.7,346.3h1.8 M600.7,345.2h1.8 M600.7,344.3h1.8 M600.7,343.5h1.8 M600.7,342.8h1.8 M600.7,342.2h1.8 M600.7,353.2h3 M786.2,353.5h-3 M786.2,344.1h-1.8 M786.2,334.7h-3 M786.2,325.3h-1.8 M786.2,315.9h-3 M786.2,306.5h-1.8 M786.2,297.1h-3 M786.2,287.7h-1.8 M786.2,278.3h-3 M786.2,268.9h-1.8 M786.2,259.5h-3 M786.2,250.1h-1.8 M786.2,240.7h-3 M786.2,231.3h-1.8 M786.2,221.9h-3 M786.2,212.5h-1.8 M786.2,203.1h-3 M602.6,353.5v-3 M614.8,353.5v-1.8 M627.0,353.5v-3 M639.2,353.5v-1.8 M651.4,353.5v-3 M663.6,353.5v-1.8 M675.8,353.5v-3 M688.0,353.5v-1.8 M700.2,353.5v-3 M712.4,353.5v-1.8 M724.6,353.5v-3 M736.8,353.5v-1.8 M749.0,353.5v-3 M761.2,353.5v-1.8 M773.4,353.5v-3 M785.6,353.5v-1.8" stroke="#222" stroke-width="0.7" fill="none"/>
<text x="696.5" y="373.3" font-size="7.5" letter-spacing="1.8" text-anchor="middle" font-family="'Liberation Serif', serif" fill="#333">时间（天）</text>
<text transform="translate(580,275.8) rotate(-90)" font-size="8.2" text-anchor="middle" font-family="'Liberation Serif', serif" fill="#222">土壤水中氚浓度（<tspan font-weight="bold">Bq/cm<tspan font-size="5" dy="-3">3</tspan><tspan dy="3">）</tspan></tspan></text>
<text transform="translate(805.4,278.7) rotate(-90)" font-size="8" text-anchor="middle" font-family="'Liberation Serif', serif" fill="#222">降水量（<tspan font-weight="bold">cm</tspan>）</text>
<line x1="613.8" y1="212.6" x2="624.8" y2="212.6" stroke="#c8c8c8" stroke-width="1"/>
<text x="627.3" y="214.9" font-size="5.6" font-family="'Liberation Serif', serif" fill="#333">降水量</text>
<line x1="745.2" y1="206.7" x2="756.9000000000001" y2="206.7" stroke="#333" stroke-width="0.8"/>
<text x="759.5" y="208.7" font-size="5.4" font-family="'Liberation Serif', serif" fill="#333">10cm</text>
<line x1="745.2" y1="213.4" x2="756.9000000000001" y2="213.4" stroke="#e8453c" stroke-width="0.8"/>
<text x="759.5" y="215.4" font-size="5.4" font-family="'Liberation Serif', serif" fill="#333">30cm</text>
<line x1="745.2" y1="220.1" x2="756.9000000000001" y2="220.1" stroke="#3d70db" stroke-width="0.8"/>
<text x="759.5" y="222.1" font-size="5.4" font-family="'Liberation Serif', serif" fill="#333">50cm</text>
<line x1="745.2" y1="226.8" x2="756.9000000000001" y2="226.8" stroke="#3aa55a" stroke-width="0.8"/>
<text x="759.5" y="228.8" font-size="5.4" font-family="'Liberation Serif', serif" fill="#333">100cm</text>
<text x="233" y="390" font-size="16" font-weight="bold" font-family="'Liberation Sans', sans-serif" fill="#000">动态降水/蒸散发数据驱动下不同质地土壤中氚浓度分布</text>
<text x="348.8" y="90" font-size="16" letter-spacing="0.25" font-weight="bold" font-family="'Liberation Sans', sans-serif" fill="#000">氚迁移模拟与柱实验对比结果</text>
</svg></body></html>
